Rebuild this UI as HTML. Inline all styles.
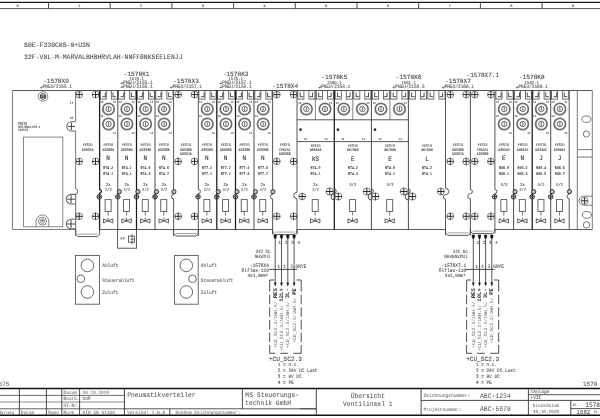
<!DOCTYPE html>
<html><head><meta charset="utf-8"><title>Ventilinsel</title>
<style>
html,body{margin:0;padding:0;background:#fff;}
body{width:600px;height:418px;overflow:hidden;font-family:"Liberation Mono",monospace;}
svg{display:block;font-family:"Liberation Mono",monospace;filter:blur(0.3px);text-rendering:geometricPrecision;}
</style></head><body>
<svg width="600" height="418" viewBox="0 0 600 418">
<rect x="0" y="0" width="600" height="418" fill="#fff"/>
<line x1="0.00" y1="2.30" x2="600.00" y2="2.30" stroke="#1a1a1a" stroke-width="1.15" />
<line x1="0.00" y1="8.60" x2="600.00" y2="8.60" stroke="#3a3a3a" stroke-width="0.85" />
<line x1="48.50" y1="2.30" x2="48.50" y2="8.60" stroke="#2a2a2a" stroke-width="0.85" />
<text transform="translate(17.70 6.76) scale(1 1.0)" font-size="3.83" fill="#444" stroke="#444" stroke-width="0.08" text-anchor="middle" font-weight="normal">0</text>
<line x1="110.20" y1="2.30" x2="110.20" y2="8.60" stroke="#2a2a2a" stroke-width="0.85" />
<text transform="translate(79.40 6.76) scale(1 1.0)" font-size="3.83" fill="#444" stroke="#444" stroke-width="0.08" text-anchor="middle" font-weight="normal">1</text>
<line x1="171.90" y1="2.30" x2="171.90" y2="8.60" stroke="#2a2a2a" stroke-width="0.85" />
<text transform="translate(141.10 6.76) scale(1 1.0)" font-size="3.83" fill="#444" stroke="#444" stroke-width="0.08" text-anchor="middle" font-weight="normal">2</text>
<line x1="233.60" y1="2.30" x2="233.60" y2="8.60" stroke="#2a2a2a" stroke-width="0.85" />
<text transform="translate(202.80 6.76) scale(1 1.0)" font-size="3.83" fill="#444" stroke="#444" stroke-width="0.08" text-anchor="middle" font-weight="normal">3</text>
<line x1="295.30" y1="2.30" x2="295.30" y2="8.60" stroke="#2a2a2a" stroke-width="0.85" />
<text transform="translate(264.50 6.76) scale(1 1.0)" font-size="3.83" fill="#444" stroke="#444" stroke-width="0.08" text-anchor="middle" font-weight="normal">4</text>
<line x1="357.00" y1="2.30" x2="357.00" y2="8.60" stroke="#2a2a2a" stroke-width="0.85" />
<text transform="translate(326.20 6.76) scale(1 1.0)" font-size="3.83" fill="#444" stroke="#444" stroke-width="0.08" text-anchor="middle" font-weight="normal">5</text>
<line x1="418.70" y1="2.30" x2="418.70" y2="8.60" stroke="#2a2a2a" stroke-width="0.85" />
<text transform="translate(387.90 6.76) scale(1 1.0)" font-size="3.83" fill="#444" stroke="#444" stroke-width="0.08" text-anchor="middle" font-weight="normal">6</text>
<line x1="480.40" y1="2.30" x2="480.40" y2="8.60" stroke="#2a2a2a" stroke-width="0.85" />
<text transform="translate(449.60 6.76) scale(1 1.0)" font-size="3.83" fill="#444" stroke="#444" stroke-width="0.08" text-anchor="middle" font-weight="normal">7</text>
<line x1="542.10" y1="2.30" x2="542.10" y2="8.60" stroke="#2a2a2a" stroke-width="0.85" />
<text transform="translate(511.30 6.76) scale(1 1.0)" font-size="3.83" fill="#444" stroke="#444" stroke-width="0.08" text-anchor="middle" font-weight="normal">8</text>
<line x1="603.80" y1="2.30" x2="603.80" y2="8.60" stroke="#2a2a2a" stroke-width="0.85" />
<text transform="translate(573.00 6.76) scale(1 1.0)" font-size="3.83" fill="#444" stroke="#444" stroke-width="0.08" text-anchor="middle" font-weight="normal">9</text>
<text transform="translate(24.10 46.86) scale(1 1.06)" font-size="6.45" fill="#4a4a4a" stroke="#4a4a4a" stroke-width="0.08" text-anchor="start" font-weight="normal">S0E-F330C0S-0+U3N</text>
<text transform="translate(24.10 59.16) scale(1 1.06)" font-size="6.45" fill="#4a4a4a" stroke="#4a4a4a" stroke-width="0.08" text-anchor="start" font-weight="normal">32F-V0L-M-MARVALBHBHRVLAH-NNFF8NKSEELENJJ</text>
<line x1="12.40" y1="90.50" x2="592.30" y2="90.50" stroke="#444" stroke-width="0.9" />
<line x1="12.40" y1="90.50" x2="12.40" y2="229.50" stroke="#666" stroke-width="0.85" />
<line x1="12.40" y1="229.50" x2="75.80" y2="229.50" stroke="#666" stroke-width="0.85" />
<line x1="99.50" y1="229.50" x2="272.70" y2="229.50" stroke="#4a4a4a" stroke-width="0.9" />
<line x1="297.00" y1="229.50" x2="445.30" y2="229.50" stroke="#4a4a4a" stroke-width="0.9" />
<line x1="494.50" y1="229.50" x2="592.30" y2="229.50" stroke="#4a4a4a" stroke-width="0.9" />
<line x1="592.30" y1="90.50" x2="592.30" y2="229.50" stroke="#606060" stroke-width="0.85" />
<text transform="translate(56.00 83.36) scale(1 1.06)" font-size="6.17" fill="#444" stroke="#444" stroke-width="0.08" text-anchor="middle" font-weight="normal">-1578X0</text>
<path d="M42.28,85.70 L42.28,87.70 L40.98,87.70" stroke="#444" stroke-width="0.55" fill="none"/>
<path d="M40.08,87.70 L41.28,86.90 L41.28,88.50 Z" stroke="#444" stroke-width="0.2" fill="#444"/>
<text transform="translate(42.65 88.49) scale(1 1.15)" font-size="4.45" fill="#555" stroke="#555" stroke-width="0.08" text-anchor="start" font-weight="normal">PNEU/2155.1</text>
<circle cx="43.00" cy="96.40" r="4.80" stroke="#666" stroke-width="0.8" fill="none"/>
<circle cx="43.00" cy="96.40" r="2.80" stroke="#444" stroke-width="1.0" fill="none"/>
<line x1="40.60" y1="95.50" x2="45.40" y2="95.50" stroke="#333" stroke-width="0.7" />
<line x1="40.20" y1="96.50" x2="45.80" y2="96.50" stroke="#333" stroke-width="0.7" />
<line x1="40.60" y1="97.50" x2="45.40" y2="97.50" stroke="#333" stroke-width="0.7" />
<line x1="75.60" y1="90.50" x2="75.60" y2="121.60" stroke="#666" stroke-width="0.85" />
<path d="M75.6,121.80000000000001 L71.39999999999999,121.80000000000001 A4.6,4.6 0 0 0 71.39999999999999,131.0 L75.6,131.0" stroke="#666" stroke-width="1.1" fill="none"/>
<line x1="67.80" y1="126.40" x2="75.00" y2="126.40" stroke="#333" stroke-width="0.9" />
<line x1="71.40" y1="122.70" x2="71.40" y2="130.10" stroke="#333" stroke-width="0.9" />
<line x1="75.60" y1="131.00" x2="75.60" y2="188.80" stroke="#666" stroke-width="0.85" />
<text transform="translate(69.80 103.56) scale(1 1.2)" font-size="2.67" fill="#444" stroke="#444" stroke-width="0.1" text-anchor="start" font-weight="normal">17</text>
<text transform="translate(69.80 118.96) scale(1 1.2)" font-size="2.67" fill="#444" stroke="#444" stroke-width="0.1" text-anchor="start" font-weight="normal">18</text>
<text transform="translate(18.00 124.99) scale(1 1.2)" font-size="3.00" fill="#444" stroke="#444" stroke-width="0.1" text-anchor="start" font-weight="normal">FESTO</text>
<text transform="translate(18.00 127.76) scale(1 1.2)" font-size="2.67" fill="#444" stroke="#444" stroke-width="0.1" text-anchor="start" font-weight="normal">CPX-FB33-CPI-4</text>
<text transform="translate(18.00 130.52) scale(1 1.2)" font-size="2.83" fill="#444" stroke="#444" stroke-width="0.1" text-anchor="start" font-weight="normal">5XXX79</text>
<rect x="23.60" y="137.10" width="39.20" height="89.70" stroke="#707070" stroke-width="0.85" fill="none" />
<path d="M36.1,226.8 L36.1,221.3 A6.35,6.35 0 0 1 48.8,221.3 L48.8,226.8" stroke="#777" stroke-width="0.9" fill="none"/>
<circle cx="42.50" cy="221.20" r="4.00" stroke="#777" stroke-width="0.9" fill="none"/>
<circle cx="42.50" cy="221.20" r="2.20" stroke="#777" stroke-width="0.8" fill="none"/>
<circle cx="42.50" cy="220.80" r="0.90" stroke="#555" stroke-width="0.3" fill="#555"/>
<circle cx="79.20" cy="94.60" r="3.40" stroke="#777" stroke-width="0.9" fill="none"/>
<line x1="75.80" y1="94.60" x2="82.60" y2="94.60" stroke="#2a2a2a" stroke-width="1.0" />
<line x1="79.20" y1="91.20" x2="79.20" y2="98.00" stroke="#2a2a2a" stroke-width="1.0" />
<circle cx="95.50" cy="94.60" r="3.40" stroke="#777" stroke-width="0.9" fill="none"/>
<line x1="92.10" y1="94.60" x2="98.90" y2="94.60" stroke="#2a2a2a" stroke-width="1.0" />
<line x1="95.50" y1="91.20" x2="95.50" y2="98.00" stroke="#2a2a2a" stroke-width="1.0" />
<circle cx="79.20" cy="161.40" r="3.40" stroke="#777" stroke-width="0.9" fill="none"/>
<line x1="75.80" y1="161.40" x2="82.60" y2="161.40" stroke="#2a2a2a" stroke-width="1.0" />
<line x1="79.20" y1="158.00" x2="79.20" y2="164.80" stroke="#2a2a2a" stroke-width="1.0" />
<circle cx="95.50" cy="161.40" r="3.40" stroke="#777" stroke-width="0.9" fill="none"/>
<line x1="92.10" y1="161.40" x2="98.90" y2="161.40" stroke="#2a2a2a" stroke-width="1.0" />
<line x1="95.50" y1="158.00" x2="95.50" y2="164.80" stroke="#2a2a2a" stroke-width="1.0" />
<circle cx="79.20" cy="216.30" r="3.40" stroke="#777" stroke-width="0.9" fill="none"/>
<line x1="75.80" y1="216.30" x2="82.60" y2="216.30" stroke="#2a2a2a" stroke-width="1.0" />
<line x1="79.20" y1="212.90" x2="79.20" y2="219.70" stroke="#2a2a2a" stroke-width="1.0" />
<circle cx="95.50" cy="216.30" r="3.40" stroke="#777" stroke-width="0.9" fill="none"/>
<line x1="92.10" y1="216.30" x2="98.90" y2="216.30" stroke="#2a2a2a" stroke-width="1.0" />
<line x1="95.50" y1="212.90" x2="95.50" y2="219.70" stroke="#2a2a2a" stroke-width="1.0" />
<path d="M75.7,229.5 L75.7,234.1 L77.9,236.6 L97.39999999999999,236.6 L99.6,234.1 L99.6,229.5" stroke="#444" stroke-width="0.9" fill="none"/>
<line x1="77.70" y1="234.10" x2="97.60" y2="234.10" stroke="#777" stroke-width="0.7" />
<text transform="translate(87.65 146.49) scale(1 1.2)" font-size="3.25" fill="#444" stroke="#444" stroke-width="0.1" text-anchor="middle" font-weight="normal">FESTO</text>
<text transform="translate(87.65 150.64) scale(1 1.2)" font-size="3.25" fill="#444" stroke="#444" stroke-width="0.1" text-anchor="middle" font-weight="normal">533375</text>
<path d="M75.7,188.8 A1.9,2.6 0 0 1 75.7,194.0 L75.7,236" stroke="#555" stroke-width="0.9" fill="none"/>
<path d="M75.7,194.39999999999998 L71.10000000000001,194.39999999999998 A4.8,4.8 0 0 0 71.10000000000001,204.0 L75.7,204.0" stroke="#666" stroke-width="1.1" fill="none"/>
<line x1="67.30" y1="199.20" x2="75.10" y2="199.20" stroke="#333" stroke-width="0.9" />
<line x1="71.10" y1="195.30" x2="71.10" y2="203.10" stroke="#333" stroke-width="0.9" />
<path d="M75.7,219.2 L71.10000000000001,219.2 A4.8,4.8 0 0 0 71.10000000000001,228.8 L75.7,228.8" stroke="#666" stroke-width="1.1" fill="none"/>
<line x1="67.30" y1="224.00" x2="75.10" y2="224.00" stroke="#333" stroke-width="0.9" />
<line x1="71.10" y1="220.10" x2="71.10" y2="227.90" stroke="#333" stroke-width="0.9" />
<rect x="100.20" y="90.50" width="6.10" height="8.60" stroke="#555" stroke-width="0.85" fill="none" />
<line x1="105.30" y1="92.40" x2="105.30" y2="97.10" stroke="#333" stroke-width="0.85" />
<line x1="102.20" y1="96.70" x2="105.30" y2="96.70" stroke="#333" stroke-width="0.85" />
<rect x="111.30" y="90.50" width="6.10" height="8.60" stroke="#555" stroke-width="0.85" fill="none" />
<line x1="113.00" y1="92.40" x2="113.00" y2="97.10" stroke="#333" stroke-width="0.85" />
<line x1="113.00" y1="96.70" x2="116.10" y2="96.70" stroke="#333" stroke-width="0.85" />
<circle cx="108.55" cy="109.00" r="5.70" stroke="#808080" stroke-width="1.8" fill="none"/>
<circle cx="108.55" cy="109.00" r="5.70" stroke="#5a5a5a" stroke-width="0.5" fill="none"/>
<circle cx="108.55" cy="109.00" r="2.70" stroke="#444" stroke-width="0.8" fill="none"/>
<line x1="108.55" y1="107.10" x2="108.55" y2="110.90" stroke="#444" stroke-width="0.8" />
<circle cx="108.55" cy="124.00" r="5.70" stroke="#808080" stroke-width="1.8" fill="none"/>
<circle cx="108.55" cy="124.00" r="5.70" stroke="#5a5a5a" stroke-width="0.5" fill="none"/>
<circle cx="108.55" cy="124.00" r="2.70" stroke="#444" stroke-width="0.8" fill="none"/>
<line x1="108.55" y1="122.10" x2="108.55" y2="125.90" stroke="#444" stroke-width="0.8" />
<text transform="translate(100.30 102.82) scale(1 1.2)" font-size="2.58" fill="#444" stroke="#444" stroke-width="0.1" text-anchor="start" font-weight="normal">12</text>
<text transform="translate(113.00 102.82) scale(1 1.2)" font-size="2.58" fill="#444" stroke="#444" stroke-width="0.1" text-anchor="start" font-weight="normal">14</text>
<text transform="translate(100.30 117.42) scale(1 1.2)" font-size="2.58" fill="#444" stroke="#444" stroke-width="0.1" text-anchor="start" font-weight="normal">12</text>
<text transform="translate(113.00 133.62) scale(1 1.2)" font-size="2.58" fill="#444" stroke="#444" stroke-width="0.1" text-anchor="start" font-weight="normal">14</text>
<text transform="translate(108.35 146.49) scale(1 1.2)" font-size="3.25" fill="#444" stroke="#444" stroke-width="0.1" text-anchor="middle" font-weight="normal">FESTO</text>
<text transform="translate(108.35 150.69) scale(1 1.2)" font-size="3.25" fill="#444" stroke="#444" stroke-width="0.1" text-anchor="middle" font-weight="normal">533396</text>
<text transform="translate(108.15 160.28) scale(1 1.15)" font-size="6.00" fill="#2a2a2a" stroke="#2a2a2a" stroke-width="0.08" text-anchor="middle" font-weight="normal">N</text>
<text transform="translate(108.35 169.02) scale(1 1.2)" font-size="3.33" fill="#3a3a3a" stroke="#3a3a3a" stroke-width="0.1" text-anchor="middle" font-weight="normal">RT4.2</text>
<text transform="translate(108.35 174.82) scale(1 1.2)" font-size="3.33" fill="#3a3a3a" stroke="#3a3a3a" stroke-width="0.1" text-anchor="middle" font-weight="normal">RT4.1</text>
<text transform="translate(108.35 186.25) scale(1 1.15)" font-size="3.83" fill="#333" stroke="#333" stroke-width="0.08" text-anchor="middle" font-weight="normal">2x</text>
<text transform="translate(108.35 191.32) scale(1 1.15)" font-size="3.75" fill="#666" stroke="#666" stroke-width="0.08" text-anchor="middle" font-weight="normal">3/2</text>
<rect x="105.15" y="199.60" width="6.00" height="11.80" stroke="#555" stroke-width="0.9" fill="none" />
<line x1="108.15" y1="211.40" x2="108.15" y2="215.60" stroke="#555" stroke-width="0.8" />
<path d="M103.45,218.9 L103.45,222.9 L112.85000000000001,218.9 L112.85000000000001,222.9 Z" stroke="#3a3a3a" stroke-width="0.8" fill="none"/>
<line x1="108.15" y1="217.60" x2="108.15" y2="220.90" stroke="#444" stroke-width="0.8" />
<rect x="118.60" y="90.50" width="6.10" height="8.60" stroke="#555" stroke-width="0.85" fill="none" />
<line x1="123.70" y1="92.40" x2="123.70" y2="97.10" stroke="#333" stroke-width="0.85" />
<line x1="120.60" y1="96.70" x2="123.70" y2="96.70" stroke="#333" stroke-width="0.85" />
<rect x="129.70" y="90.50" width="6.10" height="8.60" stroke="#555" stroke-width="0.85" fill="none" />
<line x1="131.40" y1="92.40" x2="131.40" y2="97.10" stroke="#333" stroke-width="0.85" />
<line x1="131.40" y1="96.70" x2="134.50" y2="96.70" stroke="#333" stroke-width="0.85" />
<circle cx="126.95" cy="109.00" r="5.70" stroke="#808080" stroke-width="1.8" fill="none"/>
<circle cx="126.95" cy="109.00" r="5.70" stroke="#5a5a5a" stroke-width="0.5" fill="none"/>
<circle cx="126.95" cy="109.00" r="2.70" stroke="#444" stroke-width="0.8" fill="none"/>
<line x1="126.95" y1="107.10" x2="126.95" y2="110.90" stroke="#444" stroke-width="0.8" />
<circle cx="126.95" cy="124.00" r="5.70" stroke="#808080" stroke-width="1.8" fill="none"/>
<circle cx="126.95" cy="124.00" r="5.70" stroke="#5a5a5a" stroke-width="0.5" fill="none"/>
<circle cx="126.95" cy="124.00" r="2.70" stroke="#444" stroke-width="0.8" fill="none"/>
<line x1="126.95" y1="122.10" x2="126.95" y2="125.90" stroke="#444" stroke-width="0.8" />
<text transform="translate(118.70 102.82) scale(1 1.2)" font-size="2.58" fill="#444" stroke="#444" stroke-width="0.1" text-anchor="start" font-weight="normal">12</text>
<text transform="translate(131.40 102.82) scale(1 1.2)" font-size="2.58" fill="#444" stroke="#444" stroke-width="0.1" text-anchor="start" font-weight="normal">14</text>
<text transform="translate(118.70 117.42) scale(1 1.2)" font-size="2.58" fill="#444" stroke="#444" stroke-width="0.1" text-anchor="start" font-weight="normal">12</text>
<text transform="translate(131.40 133.62) scale(1 1.2)" font-size="2.58" fill="#444" stroke="#444" stroke-width="0.1" text-anchor="start" font-weight="normal">14</text>
<text transform="translate(126.75 146.49) scale(1 1.2)" font-size="3.25" fill="#444" stroke="#444" stroke-width="0.1" text-anchor="middle" font-weight="normal">FESTO</text>
<text transform="translate(126.75 150.69) scale(1 1.2)" font-size="3.25" fill="#444" stroke="#444" stroke-width="0.1" text-anchor="middle" font-weight="normal">533396</text>
<text transform="translate(126.55 160.28) scale(1 1.15)" font-size="6.00" fill="#2a2a2a" stroke="#2a2a2a" stroke-width="0.08" text-anchor="middle" font-weight="normal">N</text>
<text transform="translate(126.75 169.02) scale(1 1.2)" font-size="3.33" fill="#3a3a3a" stroke="#3a3a3a" stroke-width="0.1" text-anchor="middle" font-weight="normal">RT4.1</text>
<text transform="translate(126.75 174.82) scale(1 1.2)" font-size="3.33" fill="#3a3a3a" stroke="#3a3a3a" stroke-width="0.1" text-anchor="middle" font-weight="normal">RT4.1</text>
<text transform="translate(126.75 186.25) scale(1 1.15)" font-size="3.83" fill="#333" stroke="#333" stroke-width="0.08" text-anchor="middle" font-weight="normal">2x</text>
<text transform="translate(126.75 191.32) scale(1 1.15)" font-size="3.75" fill="#666" stroke="#666" stroke-width="0.08" text-anchor="middle" font-weight="normal">3/2</text>
<rect x="123.55" y="199.60" width="6.00" height="11.80" stroke="#555" stroke-width="0.9" fill="none" />
<line x1="126.55" y1="211.40" x2="126.55" y2="215.60" stroke="#555" stroke-width="0.8" />
<path d="M121.85,218.9 L121.85,222.9 L131.25,218.9 L131.25,222.9 Z" stroke="#3a3a3a" stroke-width="0.8" fill="none"/>
<line x1="126.55" y1="217.60" x2="126.55" y2="220.90" stroke="#444" stroke-width="0.8" />
<rect x="137.30" y="90.50" width="6.10" height="8.60" stroke="#555" stroke-width="0.85" fill="none" />
<line x1="142.40" y1="92.40" x2="142.40" y2="97.10" stroke="#333" stroke-width="0.85" />
<line x1="139.30" y1="96.70" x2="142.40" y2="96.70" stroke="#333" stroke-width="0.85" />
<rect x="148.40" y="90.50" width="6.10" height="8.60" stroke="#555" stroke-width="0.85" fill="none" />
<line x1="150.10" y1="92.40" x2="150.10" y2="97.10" stroke="#333" stroke-width="0.85" />
<line x1="150.10" y1="96.70" x2="153.20" y2="96.70" stroke="#333" stroke-width="0.85" />
<circle cx="145.65" cy="109.00" r="5.70" stroke="#808080" stroke-width="1.8" fill="none"/>
<circle cx="145.65" cy="109.00" r="5.70" stroke="#5a5a5a" stroke-width="0.5" fill="none"/>
<circle cx="145.65" cy="109.00" r="2.70" stroke="#444" stroke-width="0.8" fill="none"/>
<line x1="145.65" y1="107.10" x2="145.65" y2="110.90" stroke="#444" stroke-width="0.8" />
<circle cx="145.65" cy="124.00" r="5.70" stroke="#808080" stroke-width="1.8" fill="none"/>
<circle cx="145.65" cy="124.00" r="5.70" stroke="#5a5a5a" stroke-width="0.5" fill="none"/>
<circle cx="145.65" cy="124.00" r="2.70" stroke="#444" stroke-width="0.8" fill="none"/>
<line x1="145.65" y1="122.10" x2="145.65" y2="125.90" stroke="#444" stroke-width="0.8" />
<text transform="translate(137.40 102.82) scale(1 1.2)" font-size="2.58" fill="#444" stroke="#444" stroke-width="0.1" text-anchor="start" font-weight="normal">12</text>
<text transform="translate(150.10 102.82) scale(1 1.2)" font-size="2.58" fill="#444" stroke="#444" stroke-width="0.1" text-anchor="start" font-weight="normal">14</text>
<text transform="translate(137.40 117.42) scale(1 1.2)" font-size="2.58" fill="#444" stroke="#444" stroke-width="0.1" text-anchor="start" font-weight="normal">12</text>
<text transform="translate(150.10 133.62) scale(1 1.2)" font-size="2.58" fill="#444" stroke="#444" stroke-width="0.1" text-anchor="start" font-weight="normal">14</text>
<text transform="translate(145.45 146.49) scale(1 1.2)" font-size="3.25" fill="#444" stroke="#444" stroke-width="0.1" text-anchor="middle" font-weight="normal">FESTO</text>
<text transform="translate(145.45 150.69) scale(1 1.2)" font-size="3.25" fill="#444" stroke="#444" stroke-width="0.1" text-anchor="middle" font-weight="normal">533396</text>
<text transform="translate(145.25 160.28) scale(1 1.15)" font-size="6.00" fill="#2a2a2a" stroke="#2a2a2a" stroke-width="0.08" text-anchor="middle" font-weight="normal">N</text>
<text transform="translate(145.45 169.02) scale(1 1.2)" font-size="3.33" fill="#3a3a3a" stroke="#3a3a3a" stroke-width="0.1" text-anchor="middle" font-weight="normal">RT4.6</text>
<text transform="translate(145.45 174.82) scale(1 1.2)" font-size="3.33" fill="#3a3a3a" stroke="#3a3a3a" stroke-width="0.1" text-anchor="middle" font-weight="normal">RT4.5</text>
<text transform="translate(145.45 186.25) scale(1 1.15)" font-size="3.83" fill="#333" stroke="#333" stroke-width="0.08" text-anchor="middle" font-weight="normal">2x</text>
<text transform="translate(145.45 191.32) scale(1 1.15)" font-size="3.75" fill="#666" stroke="#666" stroke-width="0.08" text-anchor="middle" font-weight="normal">3/2</text>
<rect x="142.25" y="199.60" width="6.00" height="11.80" stroke="#555" stroke-width="0.9" fill="none" />
<line x1="145.25" y1="211.40" x2="145.25" y2="215.60" stroke="#555" stroke-width="0.8" />
<path d="M140.55,218.9 L140.55,222.9 L149.95,218.9 L149.95,222.9 Z" stroke="#3a3a3a" stroke-width="0.8" fill="none"/>
<line x1="145.25" y1="217.60" x2="145.25" y2="220.90" stroke="#444" stroke-width="0.8" />
<rect x="155.80" y="90.50" width="6.10" height="8.60" stroke="#555" stroke-width="0.85" fill="none" />
<line x1="160.90" y1="92.40" x2="160.90" y2="97.10" stroke="#333" stroke-width="0.85" />
<line x1="157.80" y1="96.70" x2="160.90" y2="96.70" stroke="#333" stroke-width="0.85" />
<rect x="166.90" y="90.50" width="6.10" height="8.60" stroke="#555" stroke-width="0.85" fill="none" />
<line x1="168.60" y1="92.40" x2="168.60" y2="97.10" stroke="#333" stroke-width="0.85" />
<line x1="168.60" y1="96.70" x2="171.70" y2="96.70" stroke="#333" stroke-width="0.85" />
<circle cx="164.15" cy="109.00" r="5.70" stroke="#808080" stroke-width="1.8" fill="none"/>
<circle cx="164.15" cy="109.00" r="5.70" stroke="#5a5a5a" stroke-width="0.5" fill="none"/>
<circle cx="164.15" cy="109.00" r="2.70" stroke="#444" stroke-width="0.8" fill="none"/>
<line x1="164.15" y1="107.10" x2="164.15" y2="110.90" stroke="#444" stroke-width="0.8" />
<circle cx="164.15" cy="124.00" r="5.70" stroke="#808080" stroke-width="1.8" fill="none"/>
<circle cx="164.15" cy="124.00" r="5.70" stroke="#5a5a5a" stroke-width="0.5" fill="none"/>
<circle cx="164.15" cy="124.00" r="2.70" stroke="#444" stroke-width="0.8" fill="none"/>
<line x1="164.15" y1="122.10" x2="164.15" y2="125.90" stroke="#444" stroke-width="0.8" />
<text transform="translate(155.90 102.82) scale(1 1.2)" font-size="2.58" fill="#444" stroke="#444" stroke-width="0.1" text-anchor="start" font-weight="normal">12</text>
<text transform="translate(168.60 102.82) scale(1 1.2)" font-size="2.58" fill="#444" stroke="#444" stroke-width="0.1" text-anchor="start" font-weight="normal">14</text>
<text transform="translate(155.90 117.42) scale(1 1.2)" font-size="2.58" fill="#444" stroke="#444" stroke-width="0.1" text-anchor="start" font-weight="normal">12</text>
<text transform="translate(168.60 133.62) scale(1 1.2)" font-size="2.58" fill="#444" stroke="#444" stroke-width="0.1" text-anchor="start" font-weight="normal">14</text>
<text transform="translate(163.95 146.49) scale(1 1.2)" font-size="3.25" fill="#444" stroke="#444" stroke-width="0.1" text-anchor="middle" font-weight="normal">FESTO</text>
<text transform="translate(163.95 150.69) scale(1 1.2)" font-size="3.25" fill="#444" stroke="#444" stroke-width="0.1" text-anchor="middle" font-weight="normal">533396</text>
<text transform="translate(163.75 160.28) scale(1 1.15)" font-size="6.00" fill="#2a2a2a" stroke="#2a2a2a" stroke-width="0.08" text-anchor="middle" font-weight="normal">N</text>
<text transform="translate(163.95 169.02) scale(1 1.2)" font-size="3.33" fill="#3a3a3a" stroke="#3a3a3a" stroke-width="0.1" text-anchor="middle" font-weight="normal">RT4.6</text>
<text transform="translate(163.95 174.82) scale(1 1.2)" font-size="3.33" fill="#3a3a3a" stroke="#3a3a3a" stroke-width="0.1" text-anchor="middle" font-weight="normal">RT4.7</text>
<text transform="translate(163.95 186.25) scale(1 1.15)" font-size="3.83" fill="#333" stroke="#333" stroke-width="0.08" text-anchor="middle" font-weight="normal">2x</text>
<text transform="translate(163.95 191.32) scale(1 1.15)" font-size="3.75" fill="#666" stroke="#666" stroke-width="0.08" text-anchor="middle" font-weight="normal">3/2</text>
<rect x="160.75" y="199.60" width="6.00" height="11.80" stroke="#555" stroke-width="0.9" fill="none" />
<line x1="163.75" y1="211.40" x2="163.75" y2="215.60" stroke="#555" stroke-width="0.8" />
<path d="M159.05,218.9 L159.05,222.9 L168.45,218.9 L168.45,222.9 Z" stroke="#3a3a3a" stroke-width="0.8" fill="none"/>
<line x1="163.75" y1="217.60" x2="163.75" y2="220.90" stroke="#444" stroke-width="0.8" />
<path d="M99.6,90.5 L99.6,189.6 A1.8,1.8 0 0 1 99.6,193.20000000000002 L99.6,229.5" stroke="#1a1a1a" stroke-width="1.25" fill="none"/>
<circle cx="99.30" cy="196.80" r="2.30" stroke="#3a3a3a" stroke-width="1.0" fill="none"/>
<line x1="97.00" y1="196.80" x2="101.60" y2="196.80" stroke="#333" stroke-width="0.9" />
<line x1="99.30" y1="194.50" x2="99.30" y2="199.10" stroke="#333" stroke-width="0.9" />
<line x1="117.80" y1="90.50" x2="117.80" y2="229.50" stroke="#383838" stroke-width="0.9" />
<circle cx="119.30" cy="191.70" r="2.10" stroke="#333" stroke-width="1.0" fill="#bdbdbd"/>
<circle cx="117.80" cy="196.80" r="2.30" stroke="#3a3a3a" stroke-width="1.0" fill="none"/>
<line x1="115.50" y1="196.80" x2="120.10" y2="196.80" stroke="#333" stroke-width="0.9" />
<line x1="117.80" y1="194.50" x2="117.80" y2="199.10" stroke="#333" stroke-width="0.9" />
<line x1="136.50" y1="90.50" x2="136.50" y2="229.50" stroke="#1a1a1a" stroke-width="1.25" />
<circle cx="138.00" cy="191.70" r="2.10" stroke="#333" stroke-width="1.0" fill="#bdbdbd"/>
<circle cx="136.50" cy="196.80" r="2.30" stroke="#3a3a3a" stroke-width="1.0" fill="none"/>
<line x1="134.20" y1="196.80" x2="138.80" y2="196.80" stroke="#333" stroke-width="0.9" />
<line x1="136.50" y1="194.50" x2="136.50" y2="199.10" stroke="#333" stroke-width="0.9" />
<line x1="155.00" y1="90.50" x2="155.00" y2="229.50" stroke="#383838" stroke-width="0.9" />
<circle cx="156.50" cy="191.70" r="2.10" stroke="#333" stroke-width="1.0" fill="#bdbdbd"/>
<circle cx="155.00" cy="196.80" r="2.30" stroke="#3a3a3a" stroke-width="1.0" fill="none"/>
<line x1="152.70" y1="196.80" x2="157.30" y2="196.80" stroke="#333" stroke-width="0.9" />
<line x1="155.00" y1="194.50" x2="155.00" y2="199.10" stroke="#333" stroke-width="0.9" />
<text transform="translate(136.60 75.76) scale(1 1.06)" font-size="6.17" fill="#444" stroke="#444" stroke-width="0.08" text-anchor="middle" font-weight="normal">-1578K1</text>
<text transform="translate(136.60 80.02) scale(1 1.15)" font-size="4.00" fill="#555" stroke="#555" stroke-width="0.08" text-anchor="middle" font-weight="normal">1578.1</text>
<path d="M122.88,81.40 L122.88,83.40 L121.58,83.40" stroke="#444" stroke-width="0.55" fill="none"/>
<path d="M120.68,83.40 L121.88,82.60 L121.88,84.20 Z" stroke="#444" stroke-width="0.2" fill="#444"/>
<text transform="translate(123.25 84.19) scale(1 1.15)" font-size="4.45" fill="#555" stroke="#555" stroke-width="0.08" text-anchor="start" font-weight="normal">PNEU/2155.1</text>
<path d="M122.88,85.20 L122.88,87.20 L121.58,87.20" stroke="#444" stroke-width="0.55" fill="none"/>
<path d="M120.68,87.20 L121.88,86.40 L121.88,88.00 Z" stroke="#444" stroke-width="0.2" fill="#444"/>
<text transform="translate(123.25 87.99) scale(1 1.15)" font-size="4.45" fill="#555" stroke="#555" stroke-width="0.08" text-anchor="start" font-weight="normal">PNEU/2156.1</text>
<rect x="117.60" y="229.50" width="19.00" height="18.70" stroke="#444" stroke-width="0.9" fill="none" />
<text transform="translate(120.60 240.39) scale(1 1.2)" font-size="3.50" fill="#555" stroke="#555" stroke-width="0.1" text-anchor="start" font-weight="normal">PP</text>
<rect x="128.40" y="236.10" width="6.00" height="6.10" stroke="#444" stroke-width="0.8" fill="none" />
<line x1="132.00" y1="234.00" x2="132.00" y2="244.30" stroke="#444" stroke-width="0.8" />
<line x1="130.20" y1="239.20" x2="134.40" y2="239.20" stroke="#555" stroke-width="0.7" />
<path d="M173.6,90.5 L173.6,194.4 A2.2,2.2 0 0 0 173.6,198.8 L173.6,236" stroke="#444" stroke-width="0.9" fill="none"/>
<circle cx="173.90" cy="191.70" r="2.10" stroke="#333" stroke-width="1.0" fill="#bdbdbd"/>
<circle cx="178.20" cy="94.60" r="3.40" stroke="#777" stroke-width="0.9" fill="none"/>
<line x1="174.80" y1="94.60" x2="181.60" y2="94.60" stroke="#2a2a2a" stroke-width="1.0" />
<line x1="178.20" y1="91.20" x2="178.20" y2="98.00" stroke="#2a2a2a" stroke-width="1.0" />
<circle cx="194.50" cy="94.60" r="3.40" stroke="#777" stroke-width="0.9" fill="none"/>
<line x1="191.10" y1="94.60" x2="197.90" y2="94.60" stroke="#2a2a2a" stroke-width="1.0" />
<line x1="194.50" y1="91.20" x2="194.50" y2="98.00" stroke="#2a2a2a" stroke-width="1.0" />
<circle cx="178.20" cy="161.40" r="3.40" stroke="#777" stroke-width="0.9" fill="none"/>
<line x1="174.80" y1="161.40" x2="181.60" y2="161.40" stroke="#2a2a2a" stroke-width="1.0" />
<line x1="178.20" y1="158.00" x2="178.20" y2="164.80" stroke="#2a2a2a" stroke-width="1.0" />
<circle cx="194.50" cy="161.40" r="3.40" stroke="#777" stroke-width="0.9" fill="none"/>
<line x1="191.10" y1="161.40" x2="197.90" y2="161.40" stroke="#2a2a2a" stroke-width="1.0" />
<line x1="194.50" y1="158.00" x2="194.50" y2="164.80" stroke="#2a2a2a" stroke-width="1.0" />
<circle cx="178.20" cy="216.30" r="3.40" stroke="#777" stroke-width="0.9" fill="none"/>
<line x1="174.80" y1="216.30" x2="181.60" y2="216.30" stroke="#2a2a2a" stroke-width="1.0" />
<line x1="178.20" y1="212.90" x2="178.20" y2="219.70" stroke="#2a2a2a" stroke-width="1.0" />
<circle cx="194.50" cy="216.30" r="3.40" stroke="#777" stroke-width="0.9" fill="none"/>
<line x1="191.10" y1="216.30" x2="197.90" y2="216.30" stroke="#2a2a2a" stroke-width="1.0" />
<line x1="194.50" y1="212.90" x2="194.50" y2="219.70" stroke="#2a2a2a" stroke-width="1.0" />
<path d="M173.6,229.5 L173.6,233.5 L175.79999999999998,236.0 L196.10000000000002,236.0 L198.3,233.5 L198.3,229.5" stroke="#444" stroke-width="0.9" fill="none"/>
<line x1="175.60" y1="233.50" x2="196.30" y2="233.50" stroke="#777" stroke-width="0.7" />
<text transform="translate(185.95 146.49) scale(1 1.2)" font-size="3.25" fill="#444" stroke="#444" stroke-width="0.1" text-anchor="middle" font-weight="normal">FESTO</text>
<text transform="translate(185.95 150.64) scale(1 1.2)" font-size="3.25" fill="#444" stroke="#444" stroke-width="0.1" text-anchor="middle" font-weight="normal">533399</text>
<text transform="translate(185.95 154.79) scale(1 1.2)" font-size="3.25" fill="#444" stroke="#444" stroke-width="0.1" text-anchor="middle" font-weight="normal">533375</text>
<text transform="translate(186.00 83.06) scale(1 1.06)" font-size="6.17" fill="#444" stroke="#444" stroke-width="0.08" text-anchor="middle" font-weight="normal">-1578X3</text>
<path d="M172.28,85.60 L172.28,87.60 L170.98,87.60" stroke="#444" stroke-width="0.55" fill="none"/>
<path d="M170.08,87.60 L171.28,86.80 L171.28,88.40 Z" stroke="#444" stroke-width="0.2" fill="#444"/>
<text transform="translate(172.65 88.39) scale(1 1.15)" font-size="4.45" fill="#555" stroke="#555" stroke-width="0.08" text-anchor="start" font-weight="normal">PNEU/2157.1</text>
<rect x="198.90" y="90.50" width="6.10" height="8.60" stroke="#555" stroke-width="0.85" fill="none" />
<line x1="204.00" y1="92.40" x2="204.00" y2="97.10" stroke="#333" stroke-width="0.85" />
<line x1="200.90" y1="96.70" x2="204.00" y2="96.70" stroke="#333" stroke-width="0.85" />
<rect x="210.00" y="90.50" width="6.10" height="8.60" stroke="#555" stroke-width="0.85" fill="none" />
<line x1="211.70" y1="92.40" x2="211.70" y2="97.10" stroke="#333" stroke-width="0.85" />
<line x1="211.70" y1="96.70" x2="214.80" y2="96.70" stroke="#333" stroke-width="0.85" />
<circle cx="207.25" cy="109.00" r="5.70" stroke="#808080" stroke-width="1.8" fill="none"/>
<circle cx="207.25" cy="109.00" r="5.70" stroke="#5a5a5a" stroke-width="0.5" fill="none"/>
<circle cx="207.25" cy="109.00" r="2.70" stroke="#444" stroke-width="0.8" fill="none"/>
<line x1="207.25" y1="107.10" x2="207.25" y2="110.90" stroke="#444" stroke-width="0.8" />
<circle cx="207.25" cy="124.00" r="5.70" stroke="#808080" stroke-width="1.8" fill="none"/>
<circle cx="207.25" cy="124.00" r="5.70" stroke="#5a5a5a" stroke-width="0.5" fill="none"/>
<circle cx="207.25" cy="124.00" r="2.70" stroke="#444" stroke-width="0.8" fill="none"/>
<line x1="207.25" y1="122.10" x2="207.25" y2="125.90" stroke="#444" stroke-width="0.8" />
<text transform="translate(199.00 102.82) scale(1 1.2)" font-size="2.58" fill="#444" stroke="#444" stroke-width="0.1" text-anchor="start" font-weight="normal">12</text>
<text transform="translate(211.70 102.82) scale(1 1.2)" font-size="2.58" fill="#444" stroke="#444" stroke-width="0.1" text-anchor="start" font-weight="normal">14</text>
<text transform="translate(199.00 117.42) scale(1 1.2)" font-size="2.58" fill="#444" stroke="#444" stroke-width="0.1" text-anchor="start" font-weight="normal">12</text>
<text transform="translate(211.70 133.62) scale(1 1.2)" font-size="2.58" fill="#444" stroke="#444" stroke-width="0.1" text-anchor="start" font-weight="normal">14</text>
<text transform="translate(207.05 146.49) scale(1 1.2)" font-size="3.25" fill="#444" stroke="#444" stroke-width="0.1" text-anchor="middle" font-weight="normal">FESTO</text>
<text transform="translate(207.05 150.69) scale(1 1.2)" font-size="3.25" fill="#444" stroke="#444" stroke-width="0.1" text-anchor="middle" font-weight="normal">533396</text>
<text transform="translate(206.85 160.28) scale(1 1.15)" font-size="6.00" fill="#2a2a2a" stroke="#2a2a2a" stroke-width="0.08" text-anchor="middle" font-weight="normal">N</text>
<text transform="translate(207.05 169.02) scale(1 1.2)" font-size="3.33" fill="#3a3a3a" stroke="#3a3a3a" stroke-width="0.1" text-anchor="middle" font-weight="normal">RT7.2</text>
<text transform="translate(207.05 174.82) scale(1 1.2)" font-size="3.33" fill="#3a3a3a" stroke="#3a3a3a" stroke-width="0.1" text-anchor="middle" font-weight="normal">RT7.1</text>
<text transform="translate(207.05 186.25) scale(1 1.15)" font-size="3.83" fill="#333" stroke="#333" stroke-width="0.08" text-anchor="middle" font-weight="normal">2x</text>
<text transform="translate(207.05 191.32) scale(1 1.15)" font-size="3.75" fill="#666" stroke="#666" stroke-width="0.08" text-anchor="middle" font-weight="normal">3/2</text>
<rect x="203.85" y="199.60" width="6.00" height="11.80" stroke="#555" stroke-width="0.9" fill="none" />
<line x1="206.85" y1="211.40" x2="206.85" y2="215.60" stroke="#555" stroke-width="0.8" />
<path d="M202.15,218.9 L202.15,222.9 L211.54999999999998,218.9 L211.54999999999998,222.9 Z" stroke="#3a3a3a" stroke-width="0.8" fill="none"/>
<line x1="206.85" y1="217.60" x2="206.85" y2="220.90" stroke="#444" stroke-width="0.8" />
<rect x="217.60" y="90.50" width="6.10" height="8.60" stroke="#555" stroke-width="0.85" fill="none" />
<line x1="222.70" y1="92.40" x2="222.70" y2="97.10" stroke="#333" stroke-width="0.85" />
<line x1="219.60" y1="96.70" x2="222.70" y2="96.70" stroke="#333" stroke-width="0.85" />
<rect x="228.70" y="90.50" width="6.10" height="8.60" stroke="#555" stroke-width="0.85" fill="none" />
<line x1="230.40" y1="92.40" x2="230.40" y2="97.10" stroke="#333" stroke-width="0.85" />
<line x1="230.40" y1="96.70" x2="233.50" y2="96.70" stroke="#333" stroke-width="0.85" />
<circle cx="225.95" cy="109.00" r="5.70" stroke="#808080" stroke-width="1.8" fill="none"/>
<circle cx="225.95" cy="109.00" r="5.70" stroke="#5a5a5a" stroke-width="0.5" fill="none"/>
<circle cx="225.95" cy="109.00" r="2.70" stroke="#444" stroke-width="0.8" fill="none"/>
<line x1="225.95" y1="107.10" x2="225.95" y2="110.90" stroke="#444" stroke-width="0.8" />
<circle cx="225.95" cy="124.00" r="5.70" stroke="#808080" stroke-width="1.8" fill="none"/>
<circle cx="225.95" cy="124.00" r="5.70" stroke="#5a5a5a" stroke-width="0.5" fill="none"/>
<circle cx="225.95" cy="124.00" r="2.70" stroke="#444" stroke-width="0.8" fill="none"/>
<line x1="225.95" y1="122.10" x2="225.95" y2="125.90" stroke="#444" stroke-width="0.8" />
<text transform="translate(217.70 102.82) scale(1 1.2)" font-size="2.58" fill="#444" stroke="#444" stroke-width="0.1" text-anchor="start" font-weight="normal">12</text>
<text transform="translate(230.40 102.82) scale(1 1.2)" font-size="2.58" fill="#444" stroke="#444" stroke-width="0.1" text-anchor="start" font-weight="normal">14</text>
<text transform="translate(217.70 117.42) scale(1 1.2)" font-size="2.58" fill="#444" stroke="#444" stroke-width="0.1" text-anchor="start" font-weight="normal">12</text>
<text transform="translate(230.40 133.62) scale(1 1.2)" font-size="2.58" fill="#444" stroke="#444" stroke-width="0.1" text-anchor="start" font-weight="normal">14</text>
<text transform="translate(225.75 146.49) scale(1 1.2)" font-size="3.25" fill="#444" stroke="#444" stroke-width="0.1" text-anchor="middle" font-weight="normal">FESTO</text>
<text transform="translate(225.75 150.69) scale(1 1.2)" font-size="3.25" fill="#444" stroke="#444" stroke-width="0.1" text-anchor="middle" font-weight="normal">533396</text>
<text transform="translate(225.55 160.28) scale(1 1.15)" font-size="6.00" fill="#2a2a2a" stroke="#2a2a2a" stroke-width="0.08" text-anchor="middle" font-weight="normal">N</text>
<text transform="translate(225.75 169.02) scale(1 1.2)" font-size="3.33" fill="#3a3a3a" stroke="#3a3a3a" stroke-width="0.1" text-anchor="middle" font-weight="normal">RT7.2</text>
<text transform="translate(225.75 174.82) scale(1 1.2)" font-size="3.33" fill="#3a3a3a" stroke="#3a3a3a" stroke-width="0.1" text-anchor="middle" font-weight="normal">RT7.1</text>
<text transform="translate(225.75 186.25) scale(1 1.15)" font-size="3.83" fill="#333" stroke="#333" stroke-width="0.08" text-anchor="middle" font-weight="normal">2x</text>
<text transform="translate(225.75 191.32) scale(1 1.15)" font-size="3.75" fill="#666" stroke="#666" stroke-width="0.08" text-anchor="middle" font-weight="normal">3/2</text>
<rect x="222.55" y="199.60" width="6.00" height="11.80" stroke="#555" stroke-width="0.9" fill="none" />
<line x1="225.55" y1="211.40" x2="225.55" y2="215.60" stroke="#555" stroke-width="0.8" />
<path d="M220.85000000000002,218.9 L220.85000000000002,222.9 L230.25,218.9 L230.25,222.9 Z" stroke="#3a3a3a" stroke-width="0.8" fill="none"/>
<line x1="225.55" y1="217.60" x2="225.55" y2="220.90" stroke="#444" stroke-width="0.8" />
<rect x="236.30" y="90.50" width="6.10" height="8.60" stroke="#555" stroke-width="0.85" fill="none" />
<line x1="241.40" y1="92.40" x2="241.40" y2="97.10" stroke="#333" stroke-width="0.85" />
<line x1="238.30" y1="96.70" x2="241.40" y2="96.70" stroke="#333" stroke-width="0.85" />
<rect x="247.40" y="90.50" width="6.10" height="8.60" stroke="#555" stroke-width="0.85" fill="none" />
<line x1="249.10" y1="92.40" x2="249.10" y2="97.10" stroke="#333" stroke-width="0.85" />
<line x1="249.10" y1="96.70" x2="252.20" y2="96.70" stroke="#333" stroke-width="0.85" />
<circle cx="244.65" cy="109.00" r="5.70" stroke="#808080" stroke-width="1.8" fill="none"/>
<circle cx="244.65" cy="109.00" r="5.70" stroke="#5a5a5a" stroke-width="0.5" fill="none"/>
<circle cx="244.65" cy="109.00" r="2.70" stroke="#444" stroke-width="0.8" fill="none"/>
<line x1="244.65" y1="107.10" x2="244.65" y2="110.90" stroke="#444" stroke-width="0.8" />
<circle cx="244.65" cy="124.00" r="5.70" stroke="#808080" stroke-width="1.8" fill="none"/>
<circle cx="244.65" cy="124.00" r="5.70" stroke="#5a5a5a" stroke-width="0.5" fill="none"/>
<circle cx="244.65" cy="124.00" r="2.70" stroke="#444" stroke-width="0.8" fill="none"/>
<line x1="244.65" y1="122.10" x2="244.65" y2="125.90" stroke="#444" stroke-width="0.8" />
<text transform="translate(236.40 102.82) scale(1 1.2)" font-size="2.58" fill="#444" stroke="#444" stroke-width="0.1" text-anchor="start" font-weight="normal">12</text>
<text transform="translate(249.10 102.82) scale(1 1.2)" font-size="2.58" fill="#444" stroke="#444" stroke-width="0.1" text-anchor="start" font-weight="normal">14</text>
<text transform="translate(236.40 117.42) scale(1 1.2)" font-size="2.58" fill="#444" stroke="#444" stroke-width="0.1" text-anchor="start" font-weight="normal">12</text>
<text transform="translate(249.10 133.62) scale(1 1.2)" font-size="2.58" fill="#444" stroke="#444" stroke-width="0.1" text-anchor="start" font-weight="normal">14</text>
<text transform="translate(244.45 146.49) scale(1 1.2)" font-size="3.25" fill="#444" stroke="#444" stroke-width="0.1" text-anchor="middle" font-weight="normal">FESTO</text>
<text transform="translate(244.45 150.69) scale(1 1.2)" font-size="3.25" fill="#444" stroke="#444" stroke-width="0.1" text-anchor="middle" font-weight="normal">533396</text>
<text transform="translate(244.25 160.28) scale(1 1.15)" font-size="6.00" fill="#2a2a2a" stroke="#2a2a2a" stroke-width="0.08" text-anchor="middle" font-weight="normal">N</text>
<text transform="translate(244.45 169.02) scale(1 1.2)" font-size="3.33" fill="#3a3a3a" stroke="#3a3a3a" stroke-width="0.1" text-anchor="middle" font-weight="normal">RT7.6</text>
<text transform="translate(244.45 174.82) scale(1 1.2)" font-size="3.33" fill="#3a3a3a" stroke="#3a3a3a" stroke-width="0.1" text-anchor="middle" font-weight="normal">RT7.5</text>
<text transform="translate(244.45 186.25) scale(1 1.15)" font-size="3.83" fill="#333" stroke="#333" stroke-width="0.08" text-anchor="middle" font-weight="normal">2x</text>
<text transform="translate(244.45 191.32) scale(1 1.15)" font-size="3.75" fill="#666" stroke="#666" stroke-width="0.08" text-anchor="middle" font-weight="normal">3/2</text>
<rect x="241.25" y="199.60" width="6.00" height="11.80" stroke="#555" stroke-width="0.9" fill="none" />
<line x1="244.25" y1="211.40" x2="244.25" y2="215.60" stroke="#555" stroke-width="0.8" />
<path d="M239.55,218.9 L239.55,222.9 L248.95,218.9 L248.95,222.9 Z" stroke="#3a3a3a" stroke-width="0.8" fill="none"/>
<line x1="244.25" y1="217.60" x2="244.25" y2="220.90" stroke="#444" stroke-width="0.8" />
<rect x="254.80" y="90.50" width="6.10" height="8.60" stroke="#555" stroke-width="0.85" fill="none" />
<line x1="259.90" y1="92.40" x2="259.90" y2="97.10" stroke="#333" stroke-width="0.85" />
<line x1="256.80" y1="96.70" x2="259.90" y2="96.70" stroke="#333" stroke-width="0.85" />
<rect x="265.90" y="90.50" width="6.10" height="8.60" stroke="#555" stroke-width="0.85" fill="none" />
<line x1="267.60" y1="92.40" x2="267.60" y2="97.10" stroke="#333" stroke-width="0.85" />
<line x1="267.60" y1="96.70" x2="270.70" y2="96.70" stroke="#333" stroke-width="0.85" />
<circle cx="263.15" cy="109.00" r="5.70" stroke="#808080" stroke-width="1.8" fill="none"/>
<circle cx="263.15" cy="109.00" r="5.70" stroke="#5a5a5a" stroke-width="0.5" fill="none"/>
<circle cx="263.15" cy="109.00" r="2.70" stroke="#444" stroke-width="0.8" fill="none"/>
<line x1="263.15" y1="107.10" x2="263.15" y2="110.90" stroke="#444" stroke-width="0.8" />
<circle cx="263.15" cy="124.00" r="5.70" stroke="#808080" stroke-width="1.8" fill="none"/>
<circle cx="263.15" cy="124.00" r="5.70" stroke="#5a5a5a" stroke-width="0.5" fill="none"/>
<circle cx="263.15" cy="124.00" r="2.70" stroke="#444" stroke-width="0.8" fill="none"/>
<line x1="263.15" y1="122.10" x2="263.15" y2="125.90" stroke="#444" stroke-width="0.8" />
<text transform="translate(254.90 102.82) scale(1 1.2)" font-size="2.58" fill="#444" stroke="#444" stroke-width="0.1" text-anchor="start" font-weight="normal">12</text>
<text transform="translate(267.60 102.82) scale(1 1.2)" font-size="2.58" fill="#444" stroke="#444" stroke-width="0.1" text-anchor="start" font-weight="normal">14</text>
<text transform="translate(254.90 117.42) scale(1 1.2)" font-size="2.58" fill="#444" stroke="#444" stroke-width="0.1" text-anchor="start" font-weight="normal">12</text>
<text transform="translate(267.60 133.62) scale(1 1.2)" font-size="2.58" fill="#444" stroke="#444" stroke-width="0.1" text-anchor="start" font-weight="normal">14</text>
<text transform="translate(262.95 146.49) scale(1 1.2)" font-size="3.25" fill="#444" stroke="#444" stroke-width="0.1" text-anchor="middle" font-weight="normal">FESTO</text>
<text transform="translate(262.95 150.69) scale(1 1.2)" font-size="3.25" fill="#444" stroke="#444" stroke-width="0.1" text-anchor="middle" font-weight="normal">533396</text>
<text transform="translate(262.75 160.28) scale(1 1.15)" font-size="6.00" fill="#2a2a2a" stroke="#2a2a2a" stroke-width="0.08" text-anchor="middle" font-weight="normal">N</text>
<text transform="translate(262.95 169.02) scale(1 1.2)" font-size="3.33" fill="#3a3a3a" stroke="#3a3a3a" stroke-width="0.1" text-anchor="middle" font-weight="normal">RT7.6</text>
<text transform="translate(262.95 174.82) scale(1 1.2)" font-size="3.33" fill="#3a3a3a" stroke="#3a3a3a" stroke-width="0.1" text-anchor="middle" font-weight="normal">RT7.7</text>
<text transform="translate(262.95 186.25) scale(1 1.15)" font-size="3.83" fill="#333" stroke="#333" stroke-width="0.08" text-anchor="middle" font-weight="normal">2x</text>
<text transform="translate(262.95 191.32) scale(1 1.15)" font-size="3.75" fill="#666" stroke="#666" stroke-width="0.08" text-anchor="middle" font-weight="normal">3/2</text>
<rect x="259.75" y="199.60" width="6.00" height="11.80" stroke="#555" stroke-width="0.9" fill="none" />
<line x1="262.75" y1="211.40" x2="262.75" y2="215.60" stroke="#555" stroke-width="0.8" />
<path d="M258.05,218.9 L258.05,222.9 L267.45,218.9 L267.45,222.9 Z" stroke="#3a3a3a" stroke-width="0.8" fill="none"/>
<line x1="262.75" y1="217.60" x2="262.75" y2="220.90" stroke="#444" stroke-width="0.8" />
<path d="M198.3,90.5 L198.3,189.5 A2.1,2.1 0 0 1 198.3,193.7 L198.3,236" stroke="#444" stroke-width="0.9" fill="none"/>
<circle cx="198.00" cy="196.70" r="2.30" stroke="#3a3a3a" stroke-width="1.0" fill="none"/>
<line x1="195.70" y1="196.70" x2="200.30" y2="196.70" stroke="#333" stroke-width="0.9" />
<line x1="198.00" y1="194.40" x2="198.00" y2="199.00" stroke="#333" stroke-width="0.9" />
<line x1="216.80" y1="90.50" x2="216.80" y2="229.50" stroke="#1a1a1a" stroke-width="1.25" />
<circle cx="218.30" cy="191.70" r="2.10" stroke="#333" stroke-width="1.0" fill="#bdbdbd"/>
<circle cx="216.80" cy="196.80" r="2.30" stroke="#3a3a3a" stroke-width="1.0" fill="none"/>
<line x1="214.50" y1="196.80" x2="219.10" y2="196.80" stroke="#333" stroke-width="0.9" />
<line x1="216.80" y1="194.50" x2="216.80" y2="199.10" stroke="#333" stroke-width="0.9" />
<line x1="235.50" y1="90.50" x2="235.50" y2="229.50" stroke="#1a1a1a" stroke-width="1.25" />
<circle cx="237.00" cy="191.70" r="2.10" stroke="#333" stroke-width="1.0" fill="#bdbdbd"/>
<circle cx="235.50" cy="196.80" r="2.30" stroke="#3a3a3a" stroke-width="1.0" fill="none"/>
<line x1="233.20" y1="196.80" x2="237.80" y2="196.80" stroke="#333" stroke-width="0.9" />
<line x1="235.50" y1="194.50" x2="235.50" y2="199.10" stroke="#333" stroke-width="0.9" />
<line x1="254.00" y1="90.50" x2="254.00" y2="229.50" stroke="#383838" stroke-width="0.9" />
<circle cx="255.50" cy="191.70" r="2.10" stroke="#333" stroke-width="1.0" fill="#bdbdbd"/>
<circle cx="254.00" cy="196.80" r="2.30" stroke="#3a3a3a" stroke-width="1.0" fill="none"/>
<line x1="251.70" y1="196.80" x2="256.30" y2="196.80" stroke="#333" stroke-width="0.9" />
<line x1="254.00" y1="194.50" x2="254.00" y2="199.10" stroke="#333" stroke-width="0.9" />
<text transform="translate(235.60 75.56) scale(1 1.06)" font-size="6.17" fill="#444" stroke="#444" stroke-width="0.08" text-anchor="middle" font-weight="normal">-1578K3</text>
<text transform="translate(235.60 80.45) scale(1 1.15)" font-size="4.08" fill="#555" stroke="#555" stroke-width="0.08" text-anchor="middle" font-weight="normal">1578.1</text>
<path d="M221.88,81.60 L221.88,83.60 L220.58,83.60" stroke="#444" stroke-width="0.55" fill="none"/>
<path d="M219.68,83.60 L220.88,82.80 L220.88,84.40 Z" stroke="#444" stroke-width="0.2" fill="#444"/>
<text transform="translate(222.25 84.39) scale(1 1.15)" font-size="4.45" fill="#555" stroke="#555" stroke-width="0.08" text-anchor="start" font-weight="normal">PNEU/2157.1</text>
<path d="M221.88,85.50 L221.88,87.50 L220.58,87.50" stroke="#444" stroke-width="0.55" fill="none"/>
<path d="M219.68,87.50 L220.88,86.70 L220.88,88.30 Z" stroke="#444" stroke-width="0.2" fill="#444"/>
<text transform="translate(222.25 88.29) scale(1 1.15)" font-size="4.45" fill="#555" stroke="#555" stroke-width="0.08" text-anchor="start" font-weight="normal">PNEU/2158.1</text>
<path d="M272.6,90.5 L272.6,194.4 A2.2,2.2 0 0 0 272.6,198.8 L272.6,234.6" stroke="#444" stroke-width="0.9" fill="none"/>
<circle cx="272.90" cy="191.70" r="2.10" stroke="#333" stroke-width="1.0" fill="#bdbdbd"/>
<circle cx="276.80" cy="94.60" r="3.40" stroke="#777" stroke-width="0.9" fill="none"/>
<line x1="273.40" y1="94.60" x2="280.20" y2="94.60" stroke="#2a2a2a" stroke-width="1.0" />
<line x1="276.80" y1="91.20" x2="276.80" y2="98.00" stroke="#2a2a2a" stroke-width="1.0" />
<circle cx="293.60" cy="94.60" r="3.40" stroke="#777" stroke-width="0.9" fill="none"/>
<line x1="290.20" y1="94.60" x2="297.00" y2="94.60" stroke="#2a2a2a" stroke-width="1.0" />
<line x1="293.60" y1="91.20" x2="293.60" y2="98.00" stroke="#2a2a2a" stroke-width="1.0" />
<circle cx="276.80" cy="161.40" r="3.40" stroke="#777" stroke-width="0.9" fill="none"/>
<line x1="273.40" y1="161.40" x2="280.20" y2="161.40" stroke="#2a2a2a" stroke-width="1.0" />
<line x1="276.80" y1="158.00" x2="276.80" y2="164.80" stroke="#2a2a2a" stroke-width="1.0" />
<circle cx="293.60" cy="161.40" r="3.40" stroke="#777" stroke-width="0.9" fill="none"/>
<line x1="290.20" y1="161.40" x2="297.00" y2="161.40" stroke="#2a2a2a" stroke-width="1.0" />
<line x1="293.60" y1="158.00" x2="293.60" y2="164.80" stroke="#2a2a2a" stroke-width="1.0" />
<circle cx="276.80" cy="216.30" r="3.40" stroke="#777" stroke-width="0.9" fill="none"/>
<line x1="273.40" y1="216.30" x2="280.20" y2="216.30" stroke="#2a2a2a" stroke-width="1.0" />
<line x1="276.80" y1="212.90" x2="276.80" y2="219.70" stroke="#2a2a2a" stroke-width="1.0" />
<circle cx="293.60" cy="216.30" r="3.40" stroke="#777" stroke-width="0.9" fill="none"/>
<line x1="290.20" y1="216.30" x2="297.00" y2="216.30" stroke="#2a2a2a" stroke-width="1.0" />
<line x1="293.60" y1="212.90" x2="293.60" y2="219.70" stroke="#2a2a2a" stroke-width="1.0" />
<path d="M272.6,229.5 L272.6,232.1 L274.8,234.6 L294.8,234.6 L297.0,232.1 L297.0,229.5" stroke="#444" stroke-width="0.9" fill="none"/>
<line x1="274.60" y1="232.10" x2="295.00" y2="232.10" stroke="#777" stroke-width="0.7" />
<text transform="translate(284.80 146.49) scale(1 1.2)" font-size="3.25" fill="#444" stroke="#444" stroke-width="0.1" text-anchor="middle" font-weight="normal">FESTO</text>
<text transform="translate(284.80 150.64) scale(1 1.2)" font-size="3.25" fill="#444" stroke="#444" stroke-width="0.1" text-anchor="middle" font-weight="normal">CPXZAI</text>
<text transform="translate(284.80 154.79) scale(1 1.2)" font-size="3.25" fill="#444" stroke="#444" stroke-width="0.1" text-anchor="middle" font-weight="normal">533399</text>
<text transform="translate(285.30 88.36) scale(1 1.06)" font-size="6.17" fill="#444" stroke="#444" stroke-width="0.08" text-anchor="middle" font-weight="normal">-1578X4</text>
<rect x="297.80" y="90.50" width="6.10" height="8.60" stroke="#555" stroke-width="0.85" fill="none" />
<line x1="300.20" y1="92.40" x2="300.20" y2="97.10" stroke="#333" stroke-width="0.85" />
<line x1="300.20" y1="96.70" x2="303.20" y2="96.70" stroke="#333" stroke-width="0.85" />
<rect x="308.90" y="90.50" width="6.10" height="8.60" stroke="#555" stroke-width="0.85" fill="none" />
<line x1="312.60" y1="92.40" x2="312.60" y2="97.10" stroke="#333" stroke-width="0.85" />
<line x1="309.60" y1="96.70" x2="312.60" y2="96.70" stroke="#333" stroke-width="0.85" />
<rect x="316.30" y="90.50" width="6.10" height="8.60" stroke="#555" stroke-width="0.85" fill="none" />
<line x1="318.70" y1="92.40" x2="318.70" y2="97.10" stroke="#333" stroke-width="0.85" />
<line x1="318.70" y1="96.70" x2="321.70" y2="96.70" stroke="#333" stroke-width="0.85" />
<rect x="327.40" y="90.50" width="6.10" height="8.60" stroke="#555" stroke-width="0.85" fill="none" />
<line x1="331.10" y1="92.40" x2="331.10" y2="97.10" stroke="#333" stroke-width="0.85" />
<line x1="328.10" y1="96.70" x2="331.10" y2="96.70" stroke="#333" stroke-width="0.85" />
<circle cx="306.40" cy="109.00" r="5.70" stroke="#808080" stroke-width="1.8" fill="none"/>
<circle cx="306.40" cy="109.00" r="5.70" stroke="#5a5a5a" stroke-width="0.5" fill="none"/>
<circle cx="306.40" cy="109.00" r="2.70" stroke="#444" stroke-width="0.8" fill="none"/>
<line x1="306.40" y1="107.10" x2="306.40" y2="110.90" stroke="#444" stroke-width="0.8" />
<circle cx="325.00" cy="109.00" r="5.70" stroke="#808080" stroke-width="1.8" fill="none"/>
<circle cx="325.00" cy="109.00" r="5.70" stroke="#5a5a5a" stroke-width="0.5" fill="none"/>
<circle cx="325.00" cy="109.00" r="2.70" stroke="#444" stroke-width="0.8" fill="none"/>
<line x1="325.00" y1="107.10" x2="325.00" y2="110.90" stroke="#444" stroke-width="0.8" />
<line x1="315.40" y1="90.50" x2="315.40" y2="119.80" stroke="#666" stroke-width="0.8" />
<line x1="296.90" y1="119.80" x2="334.10" y2="119.80" stroke="#444" stroke-width="0.9" />
<line x1="296.90" y1="141.60" x2="334.10" y2="141.60" stroke="#444" stroke-width="0.9" />
<text transform="translate(298.30 103.62) scale(1 1.2)" font-size="2.58" fill="#444" stroke="#444" stroke-width="0.1" text-anchor="start" font-weight="normal">12</text>
<text transform="translate(329.10 103.62) scale(1 1.2)" font-size="2.58" fill="#444" stroke="#444" stroke-width="0.1" text-anchor="start" font-weight="normal">14</text>
<circle cx="300.50" cy="129.70" r="1.10" stroke="#222" stroke-width="0.5" fill="#222"/>
<text transform="translate(303.90 140.02) scale(1 1.2)" font-size="2.58" fill="#444" stroke="#444" stroke-width="0.1" text-anchor="start" font-weight="normal">12</text>
<text transform="translate(324.40 140.02) scale(1 1.2)" font-size="2.58" fill="#444" stroke="#444" stroke-width="0.1" text-anchor="start" font-weight="normal">14</text>
<text transform="translate(315.50 146.59) scale(1 1.2)" font-size="3.25" fill="#444" stroke="#444" stroke-width="0.1" text-anchor="middle" font-weight="normal">FESTO</text>
<text transform="translate(315.50 150.69) scale(1 1.2)" font-size="3.25" fill="#444" stroke="#444" stroke-width="0.1" text-anchor="middle" font-weight="normal">566656</text>
<text transform="translate(315.50 160.58) scale(1 1.15)" font-size="6.00" fill="#2a2a2a" stroke="#2a2a2a" stroke-width="0.08" text-anchor="middle" font-weight="normal">KS</text>
<text transform="translate(315.50 169.02) scale(1 1.2)" font-size="3.33" fill="#3a3a3a" stroke="#3a3a3a" stroke-width="0.1" text-anchor="middle" font-weight="normal">RT4.0</text>
<text transform="translate(315.50 174.72) scale(1 1.2)" font-size="3.33" fill="#3a3a3a" stroke="#3a3a3a" stroke-width="0.1" text-anchor="middle" font-weight="normal">RT4.1</text>
<text transform="translate(315.50 185.85) scale(1 1.15)" font-size="3.83" fill="#333" stroke="#333" stroke-width="0.08" text-anchor="middle" font-weight="normal">2x</text>
<text transform="translate(315.50 191.12) scale(1 1.15)" font-size="3.75" fill="#666" stroke="#666" stroke-width="0.08" text-anchor="middle" font-weight="normal">3/2</text>
<rect x="312.20" y="199.60" width="6.00" height="11.80" stroke="#555" stroke-width="0.9" fill="none" />
<line x1="315.20" y1="211.40" x2="315.20" y2="215.60" stroke="#555" stroke-width="0.8" />
<path d="M310.5,218.9 L310.5,222.9 L319.9,218.9 L319.9,222.9 Z" stroke="#3a3a3a" stroke-width="0.8" fill="none"/>
<line x1="315.20" y1="217.60" x2="315.20" y2="220.90" stroke="#444" stroke-width="0.8" />
<rect x="335.20" y="90.50" width="6.10" height="8.60" stroke="#555" stroke-width="0.85" fill="none" />
<line x1="337.60" y1="92.40" x2="337.60" y2="97.10" stroke="#333" stroke-width="0.85" />
<line x1="337.60" y1="96.70" x2="340.60" y2="96.70" stroke="#333" stroke-width="0.85" />
<rect x="346.30" y="90.50" width="6.10" height="8.60" stroke="#555" stroke-width="0.85" fill="none" />
<line x1="350.00" y1="92.40" x2="350.00" y2="97.10" stroke="#333" stroke-width="0.85" />
<line x1="347.00" y1="96.70" x2="350.00" y2="96.70" stroke="#333" stroke-width="0.85" />
<rect x="353.70" y="90.50" width="6.10" height="8.60" stroke="#555" stroke-width="0.85" fill="none" />
<line x1="356.10" y1="92.40" x2="356.10" y2="97.10" stroke="#333" stroke-width="0.85" />
<line x1="356.10" y1="96.70" x2="359.10" y2="96.70" stroke="#333" stroke-width="0.85" />
<rect x="364.80" y="90.50" width="6.10" height="8.60" stroke="#555" stroke-width="0.85" fill="none" />
<line x1="368.50" y1="92.40" x2="368.50" y2="97.10" stroke="#333" stroke-width="0.85" />
<line x1="365.50" y1="96.70" x2="368.50" y2="96.70" stroke="#333" stroke-width="0.85" />
<circle cx="343.80" cy="109.00" r="5.70" stroke="#808080" stroke-width="1.8" fill="none"/>
<circle cx="343.80" cy="109.00" r="5.70" stroke="#5a5a5a" stroke-width="0.5" fill="none"/>
<circle cx="343.80" cy="109.00" r="2.70" stroke="#444" stroke-width="0.8" fill="none"/>
<line x1="343.80" y1="107.10" x2="343.80" y2="110.90" stroke="#444" stroke-width="0.8" />
<circle cx="362.40" cy="109.00" r="5.70" stroke="#808080" stroke-width="1.8" fill="none"/>
<circle cx="362.40" cy="109.00" r="5.70" stroke="#5a5a5a" stroke-width="0.5" fill="none"/>
<circle cx="362.40" cy="109.00" r="2.70" stroke="#444" stroke-width="0.8" fill="none"/>
<line x1="362.40" y1="107.10" x2="362.40" y2="110.90" stroke="#444" stroke-width="0.8" />
<line x1="352.80" y1="90.50" x2="352.80" y2="119.80" stroke="#666" stroke-width="0.8" />
<line x1="334.30" y1="119.80" x2="371.50" y2="119.80" stroke="#444" stroke-width="0.9" />
<line x1="334.30" y1="141.60" x2="371.50" y2="141.60" stroke="#444" stroke-width="0.9" />
<text transform="translate(335.70 103.62) scale(1 1.2)" font-size="2.58" fill="#444" stroke="#444" stroke-width="0.1" text-anchor="start" font-weight="normal">12</text>
<text transform="translate(366.50 103.62) scale(1 1.2)" font-size="2.58" fill="#444" stroke="#444" stroke-width="0.1" text-anchor="start" font-weight="normal">14</text>
<circle cx="337.90" cy="129.70" r="1.10" stroke="#222" stroke-width="0.5" fill="#222"/>
<text transform="translate(341.30 140.02) scale(1 1.2)" font-size="2.58" fill="#444" stroke="#444" stroke-width="0.1" text-anchor="start" font-weight="normal">12</text>
<text transform="translate(361.80 140.02) scale(1 1.2)" font-size="2.58" fill="#444" stroke="#444" stroke-width="0.1" text-anchor="start" font-weight="normal">14</text>
<text transform="translate(352.90 146.59) scale(1 1.2)" font-size="3.25" fill="#444" stroke="#444" stroke-width="0.1" text-anchor="middle" font-weight="normal">FESTO</text>
<text transform="translate(352.90 150.69) scale(1 1.2)" font-size="3.25" fill="#444" stroke="#444" stroke-width="0.1" text-anchor="middle" font-weight="normal">567656</text>
<text transform="translate(352.90 160.58) scale(1 1.15)" font-size="6.00" fill="#2a2a2a" stroke="#2a2a2a" stroke-width="0.08" text-anchor="middle" font-weight="normal">E</text>
<text transform="translate(352.90 169.02) scale(1 1.2)" font-size="3.33" fill="#3a3a3a" stroke="#3a3a3a" stroke-width="0.1" text-anchor="middle" font-weight="normal">RT4.2</text>
<text transform="translate(352.90 174.72) scale(1 1.2)" font-size="3.33" fill="#3a3a3a" stroke="#3a3a3a" stroke-width="0.1" text-anchor="middle" font-weight="normal">RT4.3</text>
<text transform="translate(352.90 186.02) scale(1 1.15)" font-size="3.75" fill="#555" stroke="#555" stroke-width="0.08" text-anchor="middle" font-weight="normal">5/3</text>
<rect x="349.60" y="199.60" width="6.00" height="11.80" stroke="#555" stroke-width="0.9" fill="none" />
<line x1="352.60" y1="211.40" x2="352.60" y2="215.60" stroke="#555" stroke-width="0.8" />
<path d="M347.90000000000003,218.9 L347.90000000000003,222.9 L357.3,218.9 L357.3,222.9 Z" stroke="#3a3a3a" stroke-width="0.8" fill="none"/>
<line x1="352.60" y1="217.60" x2="352.60" y2="220.90" stroke="#444" stroke-width="0.8" />
<rect x="372.30" y="90.50" width="6.10" height="8.60" stroke="#555" stroke-width="0.85" fill="none" />
<line x1="374.70" y1="92.40" x2="374.70" y2="97.10" stroke="#333" stroke-width="0.85" />
<line x1="374.70" y1="96.70" x2="377.70" y2="96.70" stroke="#333" stroke-width="0.85" />
<rect x="383.40" y="90.50" width="6.10" height="8.60" stroke="#555" stroke-width="0.85" fill="none" />
<line x1="387.10" y1="92.40" x2="387.10" y2="97.10" stroke="#333" stroke-width="0.85" />
<line x1="384.10" y1="96.70" x2="387.10" y2="96.70" stroke="#333" stroke-width="0.85" />
<rect x="390.80" y="90.50" width="6.10" height="8.60" stroke="#555" stroke-width="0.85" fill="none" />
<line x1="393.20" y1="92.40" x2="393.20" y2="97.10" stroke="#333" stroke-width="0.85" />
<line x1="393.20" y1="96.70" x2="396.20" y2="96.70" stroke="#333" stroke-width="0.85" />
<rect x="401.90" y="90.50" width="6.10" height="8.60" stroke="#555" stroke-width="0.85" fill="none" />
<line x1="405.60" y1="92.40" x2="405.60" y2="97.10" stroke="#333" stroke-width="0.85" />
<line x1="402.60" y1="96.70" x2="405.60" y2="96.70" stroke="#333" stroke-width="0.85" />
<circle cx="380.90" cy="109.00" r="5.70" stroke="#808080" stroke-width="1.8" fill="none"/>
<circle cx="380.90" cy="109.00" r="5.70" stroke="#5a5a5a" stroke-width="0.5" fill="none"/>
<circle cx="380.90" cy="109.00" r="2.70" stroke="#444" stroke-width="0.8" fill="none"/>
<line x1="380.90" y1="107.10" x2="380.90" y2="110.90" stroke="#444" stroke-width="0.8" />
<circle cx="399.50" cy="109.00" r="5.70" stroke="#808080" stroke-width="1.8" fill="none"/>
<circle cx="399.50" cy="109.00" r="5.70" stroke="#5a5a5a" stroke-width="0.5" fill="none"/>
<circle cx="399.50" cy="109.00" r="2.70" stroke="#444" stroke-width="0.8" fill="none"/>
<line x1="399.50" y1="107.10" x2="399.50" y2="110.90" stroke="#444" stroke-width="0.8" />
<line x1="389.90" y1="90.50" x2="389.90" y2="119.80" stroke="#666" stroke-width="0.8" />
<line x1="371.40" y1="119.80" x2="408.60" y2="119.80" stroke="#444" stroke-width="0.9" />
<line x1="371.40" y1="141.60" x2="408.60" y2="141.60" stroke="#444" stroke-width="0.9" />
<text transform="translate(372.80 103.62) scale(1 1.2)" font-size="2.58" fill="#444" stroke="#444" stroke-width="0.1" text-anchor="start" font-weight="normal">12</text>
<text transform="translate(403.60 103.62) scale(1 1.2)" font-size="2.58" fill="#444" stroke="#444" stroke-width="0.1" text-anchor="start" font-weight="normal">14</text>
<circle cx="375.00" cy="129.70" r="1.10" stroke="#222" stroke-width="0.5" fill="#222"/>
<text transform="translate(378.40 140.02) scale(1 1.2)" font-size="2.58" fill="#444" stroke="#444" stroke-width="0.1" text-anchor="start" font-weight="normal">12</text>
<text transform="translate(398.90 140.02) scale(1 1.2)" font-size="2.58" fill="#444" stroke="#444" stroke-width="0.1" text-anchor="start" font-weight="normal">14</text>
<text transform="translate(390.00 146.59) scale(1 1.2)" font-size="3.25" fill="#444" stroke="#444" stroke-width="0.1" text-anchor="middle" font-weight="normal">FESTO</text>
<text transform="translate(390.00 150.69) scale(1 1.2)" font-size="3.25" fill="#444" stroke="#444" stroke-width="0.1" text-anchor="middle" font-weight="normal">567656</text>
<text transform="translate(390.00 160.58) scale(1 1.15)" font-size="6.00" fill="#2a2a2a" stroke="#2a2a2a" stroke-width="0.08" text-anchor="middle" font-weight="normal">E</text>
<text transform="translate(390.00 169.02) scale(1 1.2)" font-size="3.33" fill="#3a3a3a" stroke="#3a3a3a" stroke-width="0.1" text-anchor="middle" font-weight="normal">RT4.0</text>
<text transform="translate(390.00 174.72) scale(1 1.2)" font-size="3.33" fill="#3a3a3a" stroke="#3a3a3a" stroke-width="0.1" text-anchor="middle" font-weight="normal">RT4.1</text>
<text transform="translate(390.00 186.02) scale(1 1.15)" font-size="3.75" fill="#555" stroke="#555" stroke-width="0.08" text-anchor="middle" font-weight="normal">5/3</text>
<rect x="386.70" y="199.60" width="6.00" height="11.80" stroke="#555" stroke-width="0.9" fill="none" />
<line x1="389.70" y1="211.40" x2="389.70" y2="215.60" stroke="#555" stroke-width="0.8" />
<path d="M385.0,218.9 L385.0,222.9 L394.4,218.9 L394.4,222.9 Z" stroke="#3a3a3a" stroke-width="0.8" fill="none"/>
<line x1="389.70" y1="217.60" x2="389.70" y2="220.90" stroke="#444" stroke-width="0.8" />
<rect x="409.30" y="90.50" width="6.10" height="8.60" stroke="#555" stroke-width="0.85" fill="none" />
<line x1="411.70" y1="92.40" x2="411.70" y2="97.10" stroke="#333" stroke-width="0.85" />
<line x1="411.70" y1="96.70" x2="414.70" y2="96.70" stroke="#333" stroke-width="0.85" />
<rect x="420.40" y="90.50" width="6.10" height="8.60" stroke="#555" stroke-width="0.85" fill="none" />
<line x1="424.10" y1="92.40" x2="424.10" y2="97.10" stroke="#333" stroke-width="0.85" />
<line x1="421.10" y1="96.70" x2="424.10" y2="96.70" stroke="#333" stroke-width="0.85" />
<rect x="427.80" y="90.50" width="6.10" height="8.60" stroke="#555" stroke-width="0.85" fill="none" />
<line x1="430.20" y1="92.40" x2="430.20" y2="97.10" stroke="#333" stroke-width="0.85" />
<line x1="430.20" y1="96.70" x2="433.20" y2="96.70" stroke="#333" stroke-width="0.85" />
<rect x="438.90" y="90.50" width="6.10" height="8.60" stroke="#555" stroke-width="0.85" fill="none" />
<line x1="442.60" y1="92.40" x2="442.60" y2="97.10" stroke="#333" stroke-width="0.85" />
<line x1="439.60" y1="96.70" x2="442.60" y2="96.70" stroke="#333" stroke-width="0.85" />
<text transform="translate(427.00 146.59) scale(1 1.2)" font-size="3.25" fill="#444" stroke="#444" stroke-width="0.1" text-anchor="middle" font-weight="normal">FESTO</text>
<text transform="translate(427.00 150.69) scale(1 1.2)" font-size="3.25" fill="#444" stroke="#444" stroke-width="0.1" text-anchor="middle" font-weight="normal">567656</text>
<text transform="translate(427.00 160.58) scale(1 1.15)" font-size="6.00" fill="#2a2a2a" stroke="#2a2a2a" stroke-width="0.08" text-anchor="middle" font-weight="normal">L</text>
<text transform="translate(427.00 169.02) scale(1 1.2)" font-size="3.33" fill="#3a3a3a" stroke="#3a3a3a" stroke-width="0.1" text-anchor="middle" font-weight="normal">RT4.2</text>
<text transform="translate(427.00 174.72) scale(1 1.2)" font-size="3.33" fill="#3a3a3a" stroke="#3a3a3a" stroke-width="0.1" text-anchor="middle" font-weight="normal">RT4.1</text>
<path d="M297.0,90.5 L297.0,192.2 A3.3,3.3 0 0 0 297.0,198.8 L297.0,234.6" stroke="#444" stroke-width="0.9" fill="none"/>
<circle cx="302.20" cy="196.50" r="3.40" stroke="#777" stroke-width="0.9" fill="none"/>
<line x1="298.80" y1="196.50" x2="305.60" y2="196.50" stroke="#2a2a2a" stroke-width="1.0" />
<line x1="302.20" y1="193.10" x2="302.20" y2="199.90" stroke="#2a2a2a" stroke-width="1.0" />
<line x1="334.30" y1="90.50" x2="334.30" y2="229.50" stroke="#1a1a1a" stroke-width="1.25" />
<circle cx="329.70" cy="191.50" r="3.60" stroke="#777" stroke-width="0.9" fill="none"/>
<line x1="326.10" y1="191.50" x2="333.30" y2="191.50" stroke="#2a2a2a" stroke-width="1.0" />
<line x1="329.70" y1="187.90" x2="329.70" y2="195.10" stroke="#2a2a2a" stroke-width="1.0" />
<circle cx="338.30" cy="196.50" r="3.60" stroke="#777" stroke-width="0.9" fill="none"/>
<line x1="334.70" y1="196.50" x2="341.90" y2="196.50" stroke="#2a2a2a" stroke-width="1.0" />
<line x1="338.30" y1="192.90" x2="338.30" y2="200.10" stroke="#2a2a2a" stroke-width="1.0" />
<path d="M334.3,188.6 A2.6,2.6 0 0 1 334.3,193.6 A3.2,3.2 0 0 0 334.3,200.0" stroke="#333" stroke-width="0.9" fill="none"/>
<line x1="371.40" y1="90.50" x2="371.40" y2="229.50" stroke="#383838" stroke-width="0.9" />
<circle cx="366.80" cy="191.50" r="3.60" stroke="#777" stroke-width="0.9" fill="none"/>
<line x1="363.20" y1="191.50" x2="370.40" y2="191.50" stroke="#2a2a2a" stroke-width="1.0" />
<line x1="366.80" y1="187.90" x2="366.80" y2="195.10" stroke="#2a2a2a" stroke-width="1.0" />
<circle cx="375.40" cy="196.50" r="3.60" stroke="#777" stroke-width="0.9" fill="none"/>
<line x1="371.80" y1="196.50" x2="379.00" y2="196.50" stroke="#2a2a2a" stroke-width="1.0" />
<line x1="375.40" y1="192.90" x2="375.40" y2="200.10" stroke="#2a2a2a" stroke-width="1.0" />
<path d="M371.4,188.6 A2.6,2.6 0 0 1 371.4,193.6 A3.2,3.2 0 0 0 371.4,200.0" stroke="#333" stroke-width="0.9" fill="none"/>
<line x1="408.40" y1="90.50" x2="408.40" y2="229.50" stroke="#383838" stroke-width="0.9" />
<circle cx="403.80" cy="191.50" r="3.60" stroke="#777" stroke-width="0.9" fill="none"/>
<line x1="400.20" y1="191.50" x2="407.40" y2="191.50" stroke="#2a2a2a" stroke-width="1.0" />
<line x1="403.80" y1="187.90" x2="403.80" y2="195.10" stroke="#2a2a2a" stroke-width="1.0" />
<circle cx="412.40" cy="196.50" r="3.60" stroke="#777" stroke-width="0.9" fill="none"/>
<line x1="408.80" y1="196.50" x2="416.00" y2="196.50" stroke="#2a2a2a" stroke-width="1.0" />
<line x1="412.40" y1="192.90" x2="412.40" y2="200.10" stroke="#2a2a2a" stroke-width="1.0" />
<path d="M408.4,188.6 A2.6,2.6 0 0 1 408.4,193.6 A3.2,3.2 0 0 0 408.4,200.0" stroke="#333" stroke-width="0.9" fill="none"/>
<text transform="translate(334.30 79.16) scale(1 1.06)" font-size="6.17" fill="#444" stroke="#444" stroke-width="0.08" text-anchor="middle" font-weight="normal">-1578K5</text>
<text transform="translate(334.30 83.72) scale(1 1.15)" font-size="4.00" fill="#555" stroke="#555" stroke-width="0.08" text-anchor="middle" font-weight="normal">1580.1</text>
<path d="M320.58,85.60 L320.58,87.60 L319.28,87.60" stroke="#444" stroke-width="0.55" fill="none"/>
<path d="M318.38,87.60 L319.58,86.80 L319.58,88.40 Z" stroke="#444" stroke-width="0.2" fill="#444"/>
<text transform="translate(320.95 88.39) scale(1 1.15)" font-size="4.45" fill="#555" stroke="#555" stroke-width="0.08" text-anchor="start" font-weight="normal">PNEU/2158.1</text>
<text transform="translate(408.60 79.16) scale(1 1.06)" font-size="6.17" fill="#444" stroke="#444" stroke-width="0.08" text-anchor="middle" font-weight="normal">-1578K6</text>
<text transform="translate(408.60 83.72) scale(1 1.15)" font-size="4.00" fill="#555" stroke="#555" stroke-width="0.08" text-anchor="middle" font-weight="normal">1581.1</text>
<path d="M394.88,85.60 L394.88,87.60 L393.58,87.60" stroke="#444" stroke-width="0.55" fill="none"/>
<path d="M392.68,87.60 L393.88,86.80 L393.88,88.40 Z" stroke="#444" stroke-width="0.2" fill="#444"/>
<text transform="translate(395.25 88.39) scale(1 1.15)" font-size="4.45" fill="#555" stroke="#555" stroke-width="0.08" text-anchor="start" font-weight="normal">PNEU/2158.5</text>
<path d="M445.5,90.5 L445.5,188.3 A3.2,3.2 0 0 1 445.5,194.70000000000002 A2.2,2.2 0 0 0 445.5,199.10000000000002 L445.5,235.4" stroke="#444" stroke-width="0.9" fill="none"/>
<circle cx="440.90" cy="191.50" r="3.50" stroke="#777" stroke-width="0.9" fill="none"/>
<line x1="437.40" y1="191.50" x2="444.40" y2="191.50" stroke="#2a2a2a" stroke-width="1.0" />
<line x1="440.90" y1="188.00" x2="440.90" y2="195.00" stroke="#2a2a2a" stroke-width="1.0" />
<circle cx="450.30" cy="94.60" r="3.40" stroke="#777" stroke-width="0.9" fill="none"/>
<line x1="446.90" y1="94.60" x2="453.70" y2="94.60" stroke="#2a2a2a" stroke-width="1.0" />
<line x1="450.30" y1="91.20" x2="450.30" y2="98.00" stroke="#2a2a2a" stroke-width="1.0" />
<circle cx="466.20" cy="94.60" r="3.40" stroke="#777" stroke-width="0.9" fill="none"/>
<line x1="462.80" y1="94.60" x2="469.60" y2="94.60" stroke="#2a2a2a" stroke-width="1.0" />
<line x1="466.20" y1="91.20" x2="466.20" y2="98.00" stroke="#2a2a2a" stroke-width="1.0" />
<circle cx="450.30" cy="161.40" r="3.40" stroke="#777" stroke-width="0.9" fill="none"/>
<line x1="446.90" y1="161.40" x2="453.70" y2="161.40" stroke="#2a2a2a" stroke-width="1.0" />
<line x1="450.30" y1="158.00" x2="450.30" y2="164.80" stroke="#2a2a2a" stroke-width="1.0" />
<circle cx="466.20" cy="161.40" r="3.40" stroke="#777" stroke-width="0.9" fill="none"/>
<line x1="462.80" y1="161.40" x2="469.60" y2="161.40" stroke="#2a2a2a" stroke-width="1.0" />
<line x1="466.20" y1="158.00" x2="466.20" y2="164.80" stroke="#2a2a2a" stroke-width="1.0" />
<circle cx="450.30" cy="216.30" r="3.40" stroke="#777" stroke-width="0.9" fill="none"/>
<line x1="446.90" y1="216.30" x2="453.70" y2="216.30" stroke="#2a2a2a" stroke-width="1.0" />
<line x1="450.30" y1="212.90" x2="450.30" y2="219.70" stroke="#2a2a2a" stroke-width="1.0" />
<circle cx="466.20" cy="216.30" r="3.40" stroke="#777" stroke-width="0.9" fill="none"/>
<line x1="462.80" y1="216.30" x2="469.60" y2="216.30" stroke="#2a2a2a" stroke-width="1.0" />
<line x1="466.20" y1="212.90" x2="466.20" y2="219.70" stroke="#2a2a2a" stroke-width="1.0" />
<path d="M445.5,229.5 L445.5,232.9 L447.7,235.4 L468.2,235.4 L470.4,232.9 L470.4,229.5" stroke="#444" stroke-width="0.9" fill="none"/>
<line x1="447.50" y1="232.90" x2="468.40" y2="232.90" stroke="#777" stroke-width="0.7" />
<text transform="translate(457.95 146.49) scale(1 1.2)" font-size="3.25" fill="#444" stroke="#444" stroke-width="0.1" text-anchor="middle" font-weight="normal">FESTO</text>
<text transform="translate(457.95 150.64) scale(1 1.2)" font-size="3.25" fill="#444" stroke="#444" stroke-width="0.1" text-anchor="middle" font-weight="normal">533399</text>
<text transform="translate(457.95 154.79) scale(1 1.2)" font-size="3.25" fill="#444" stroke="#444" stroke-width="0.1" text-anchor="middle" font-weight="normal">533375</text>
<path d="M470.4,90.5 L470.4,189.6 A2.0,2.0 0 0 1 470.4,193.6 A2.6,2.6 0 0 0 470.4,198.79999999999998 L470.4,235.4" stroke="#444" stroke-width="0.9" fill="none"/>
<circle cx="474.80" cy="94.60" r="3.40" stroke="#777" stroke-width="0.9" fill="none"/>
<line x1="471.40" y1="94.60" x2="478.20" y2="94.60" stroke="#2a2a2a" stroke-width="1.0" />
<line x1="474.80" y1="91.20" x2="474.80" y2="98.00" stroke="#2a2a2a" stroke-width="1.0" />
<circle cx="490.90" cy="94.60" r="3.40" stroke="#777" stroke-width="0.9" fill="none"/>
<line x1="487.50" y1="94.60" x2="494.30" y2="94.60" stroke="#2a2a2a" stroke-width="1.0" />
<line x1="490.90" y1="91.20" x2="490.90" y2="98.00" stroke="#2a2a2a" stroke-width="1.0" />
<circle cx="474.80" cy="161.40" r="3.40" stroke="#777" stroke-width="0.9" fill="none"/>
<line x1="471.40" y1="161.40" x2="478.20" y2="161.40" stroke="#2a2a2a" stroke-width="1.0" />
<line x1="474.80" y1="158.00" x2="474.80" y2="164.80" stroke="#2a2a2a" stroke-width="1.0" />
<circle cx="490.90" cy="161.40" r="3.40" stroke="#777" stroke-width="0.9" fill="none"/>
<line x1="487.50" y1="161.40" x2="494.30" y2="161.40" stroke="#2a2a2a" stroke-width="1.0" />
<line x1="490.90" y1="158.00" x2="490.90" y2="164.80" stroke="#2a2a2a" stroke-width="1.0" />
<circle cx="474.80" cy="216.30" r="3.40" stroke="#777" stroke-width="0.9" fill="none"/>
<line x1="471.40" y1="216.30" x2="478.20" y2="216.30" stroke="#2a2a2a" stroke-width="1.0" />
<line x1="474.80" y1="212.90" x2="474.80" y2="219.70" stroke="#2a2a2a" stroke-width="1.0" />
<circle cx="490.90" cy="216.30" r="3.40" stroke="#777" stroke-width="0.9" fill="none"/>
<line x1="487.50" y1="216.30" x2="494.30" y2="216.30" stroke="#2a2a2a" stroke-width="1.0" />
<line x1="490.90" y1="212.90" x2="490.90" y2="219.70" stroke="#2a2a2a" stroke-width="1.0" />
<path d="M470.4,229.5 L470.4,231.1 L472.59999999999997,233.6 L492.7,233.6 L494.9,231.1 L494.9,229.5" stroke="#444" stroke-width="0.9" fill="none"/>
<line x1="472.40" y1="231.10" x2="492.90" y2="231.10" stroke="#777" stroke-width="0.7" />
<text transform="translate(482.65 146.49) scale(1 1.2)" font-size="3.25" fill="#444" stroke="#444" stroke-width="0.1" text-anchor="middle" font-weight="normal">FESTO</text>
<text transform="translate(482.65 150.64) scale(1 1.2)" font-size="3.25" fill="#444" stroke="#444" stroke-width="0.1" text-anchor="middle" font-weight="normal">CPXZA1</text>
<text transform="translate(482.65 154.79) scale(1 1.2)" font-size="3.25" fill="#444" stroke="#444" stroke-width="0.1" text-anchor="middle" font-weight="normal">533399</text>
<text transform="translate(482.80 76.71) scale(1 1.06)" font-size="6.03" fill="#444" stroke="#444" stroke-width="0.08" text-anchor="middle" font-weight="normal">-1578X7.1</text>
<text transform="translate(458.00 83.06) scale(1 1.06)" font-size="6.17" fill="#444" stroke="#444" stroke-width="0.08" text-anchor="middle" font-weight="normal">-1578X7</text>
<path d="M444.28,85.60 L444.28,87.60 L442.98,87.60" stroke="#444" stroke-width="0.55" fill="none"/>
<path d="M442.08,87.60 L443.28,86.80 L443.28,88.40 Z" stroke="#444" stroke-width="0.2" fill="#444"/>
<text transform="translate(444.65 88.39) scale(1 1.15)" font-size="4.45" fill="#555" stroke="#555" stroke-width="0.08" text-anchor="start" font-weight="normal">PNEU/2160.1</text>
<rect x="495.90" y="90.50" width="6.10" height="8.60" stroke="#555" stroke-width="0.85" fill="none" />
<line x1="501.00" y1="92.40" x2="501.00" y2="97.10" stroke="#333" stroke-width="0.85" />
<line x1="497.90" y1="96.70" x2="501.00" y2="96.70" stroke="#333" stroke-width="0.85" />
<rect x="507.00" y="90.50" width="6.10" height="8.60" stroke="#555" stroke-width="0.85" fill="none" />
<line x1="508.70" y1="92.40" x2="508.70" y2="97.10" stroke="#333" stroke-width="0.85" />
<line x1="508.70" y1="96.70" x2="511.80" y2="96.70" stroke="#333" stroke-width="0.85" />
<circle cx="504.25" cy="109.00" r="5.70" stroke="#808080" stroke-width="1.8" fill="none"/>
<circle cx="504.25" cy="109.00" r="5.70" stroke="#5a5a5a" stroke-width="0.5" fill="none"/>
<circle cx="504.25" cy="109.00" r="2.70" stroke="#444" stroke-width="0.8" fill="none"/>
<line x1="504.25" y1="107.10" x2="504.25" y2="110.90" stroke="#444" stroke-width="0.8" />
<circle cx="504.25" cy="124.00" r="5.70" stroke="#808080" stroke-width="1.8" fill="none"/>
<circle cx="504.25" cy="124.00" r="5.70" stroke="#5a5a5a" stroke-width="0.5" fill="none"/>
<circle cx="504.25" cy="124.00" r="2.70" stroke="#444" stroke-width="0.8" fill="none"/>
<line x1="504.25" y1="122.10" x2="504.25" y2="125.90" stroke="#444" stroke-width="0.8" />
<text transform="translate(496.00 102.82) scale(1 1.2)" font-size="2.58" fill="#444" stroke="#444" stroke-width="0.1" text-anchor="start" font-weight="normal">12</text>
<text transform="translate(508.70 102.82) scale(1 1.2)" font-size="2.58" fill="#444" stroke="#444" stroke-width="0.1" text-anchor="start" font-weight="normal">14</text>
<text transform="translate(496.00 117.42) scale(1 1.2)" font-size="2.58" fill="#444" stroke="#444" stroke-width="0.1" text-anchor="start" font-weight="normal">12</text>
<text transform="translate(508.70 133.62) scale(1 1.2)" font-size="2.58" fill="#444" stroke="#444" stroke-width="0.1" text-anchor="start" font-weight="normal">14</text>
<text transform="translate(504.05 146.49) scale(1 1.2)" font-size="3.25" fill="#444" stroke="#444" stroke-width="0.1" text-anchor="middle" font-weight="normal">FESTO</text>
<text transform="translate(504.05 150.69) scale(1 1.2)" font-size="3.25" fill="#444" stroke="#444" stroke-width="0.1" text-anchor="middle" font-weight="normal">533342</text>
<text transform="translate(503.85 160.28) scale(1 1.15)" font-size="6.00" fill="#2a2a2a" stroke="#2a2a2a" stroke-width="0.08" text-anchor="middle" font-weight="normal">E</text>
<text transform="translate(504.05 169.02) scale(1 1.2)" font-size="3.33" fill="#3a3a3a" stroke="#3a3a3a" stroke-width="0.1" text-anchor="middle" font-weight="normal">RdG.0</text>
<text transform="translate(504.05 174.82) scale(1 1.2)" font-size="3.33" fill="#3a3a3a" stroke="#3a3a3a" stroke-width="0.1" text-anchor="middle" font-weight="normal">RdG.1</text>
<text transform="translate(504.05 186.22) scale(1 1.15)" font-size="3.75" fill="#555" stroke="#555" stroke-width="0.08" text-anchor="middle" font-weight="normal">5/3</text>
<rect x="500.85" y="199.60" width="6.00" height="11.80" stroke="#555" stroke-width="0.9" fill="none" />
<line x1="503.85" y1="211.40" x2="503.85" y2="215.60" stroke="#555" stroke-width="0.8" />
<path d="M499.15000000000003,218.9 L499.15000000000003,222.9 L508.55,218.9 L508.55,222.9 Z" stroke="#3a3a3a" stroke-width="0.8" fill="none"/>
<line x1="503.85" y1="217.60" x2="503.85" y2="220.90" stroke="#444" stroke-width="0.8" />
<rect x="514.40" y="90.50" width="6.10" height="8.60" stroke="#555" stroke-width="0.85" fill="none" />
<line x1="519.50" y1="92.40" x2="519.50" y2="97.10" stroke="#333" stroke-width="0.85" />
<line x1="516.40" y1="96.70" x2="519.50" y2="96.70" stroke="#333" stroke-width="0.85" />
<rect x="525.50" y="90.50" width="6.10" height="8.60" stroke="#555" stroke-width="0.85" fill="none" />
<line x1="527.20" y1="92.40" x2="527.20" y2="97.10" stroke="#333" stroke-width="0.85" />
<line x1="527.20" y1="96.70" x2="530.30" y2="96.70" stroke="#333" stroke-width="0.85" />
<circle cx="522.75" cy="109.00" r="5.70" stroke="#808080" stroke-width="1.8" fill="none"/>
<circle cx="522.75" cy="109.00" r="5.70" stroke="#5a5a5a" stroke-width="0.5" fill="none"/>
<circle cx="522.75" cy="109.00" r="2.70" stroke="#444" stroke-width="0.8" fill="none"/>
<line x1="522.75" y1="107.10" x2="522.75" y2="110.90" stroke="#444" stroke-width="0.8" />
<circle cx="522.75" cy="124.00" r="5.70" stroke="#808080" stroke-width="1.8" fill="none"/>
<circle cx="522.75" cy="124.00" r="5.70" stroke="#5a5a5a" stroke-width="0.5" fill="none"/>
<circle cx="522.75" cy="124.00" r="2.70" stroke="#444" stroke-width="0.8" fill="none"/>
<line x1="522.75" y1="122.10" x2="522.75" y2="125.90" stroke="#444" stroke-width="0.8" />
<text transform="translate(514.50 102.82) scale(1 1.2)" font-size="2.58" fill="#444" stroke="#444" stroke-width="0.1" text-anchor="start" font-weight="normal">12</text>
<text transform="translate(527.20 102.82) scale(1 1.2)" font-size="2.58" fill="#444" stroke="#444" stroke-width="0.1" text-anchor="start" font-weight="normal">14</text>
<text transform="translate(514.50 117.42) scale(1 1.2)" font-size="2.58" fill="#444" stroke="#444" stroke-width="0.1" text-anchor="start" font-weight="normal">12</text>
<text transform="translate(527.20 133.62) scale(1 1.2)" font-size="2.58" fill="#444" stroke="#444" stroke-width="0.1" text-anchor="start" font-weight="normal">14</text>
<text transform="translate(522.55 146.49) scale(1 1.2)" font-size="3.25" fill="#444" stroke="#444" stroke-width="0.1" text-anchor="middle" font-weight="normal">FESTO</text>
<text transform="translate(522.55 150.69) scale(1 1.2)" font-size="3.25" fill="#444" stroke="#444" stroke-width="0.1" text-anchor="middle" font-weight="normal">533342</text>
<text transform="translate(522.35 160.28) scale(1 1.15)" font-size="6.00" fill="#2a2a2a" stroke="#2a2a2a" stroke-width="0.08" text-anchor="middle" font-weight="normal">N</text>
<text transform="translate(522.55 169.02) scale(1 1.2)" font-size="3.33" fill="#3a3a3a" stroke="#3a3a3a" stroke-width="0.1" text-anchor="middle" font-weight="normal">RdG.2</text>
<text transform="translate(522.55 174.82) scale(1 1.2)" font-size="3.33" fill="#3a3a3a" stroke="#3a3a3a" stroke-width="0.1" text-anchor="middle" font-weight="normal">RdG.3</text>
<text transform="translate(522.55 186.25) scale(1 1.15)" font-size="3.83" fill="#333" stroke="#333" stroke-width="0.08" text-anchor="middle" font-weight="normal">2x</text>
<text transform="translate(522.55 191.32) scale(1 1.15)" font-size="3.75" fill="#666" stroke="#666" stroke-width="0.08" text-anchor="middle" font-weight="normal">3/2</text>
<rect x="519.35" y="199.60" width="6.00" height="11.80" stroke="#555" stroke-width="0.9" fill="none" />
<line x1="522.35" y1="211.40" x2="522.35" y2="215.60" stroke="#555" stroke-width="0.8" />
<path d="M517.65,218.9 L517.65,222.9 L527.0500000000001,218.9 L527.0500000000001,222.9 Z" stroke="#3a3a3a" stroke-width="0.8" fill="none"/>
<line x1="522.35" y1="217.60" x2="522.35" y2="220.90" stroke="#444" stroke-width="0.8" />
<rect x="533.00" y="90.50" width="6.10" height="8.60" stroke="#555" stroke-width="0.85" fill="none" />
<line x1="538.10" y1="92.40" x2="538.10" y2="97.10" stroke="#333" stroke-width="0.85" />
<line x1="535.00" y1="96.70" x2="538.10" y2="96.70" stroke="#333" stroke-width="0.85" />
<rect x="544.10" y="90.50" width="6.10" height="8.60" stroke="#555" stroke-width="0.85" fill="none" />
<line x1="545.80" y1="92.40" x2="545.80" y2="97.10" stroke="#333" stroke-width="0.85" />
<line x1="545.80" y1="96.70" x2="548.90" y2="96.70" stroke="#333" stroke-width="0.85" />
<circle cx="541.35" cy="109.00" r="5.70" stroke="#808080" stroke-width="1.8" fill="none"/>
<circle cx="541.35" cy="109.00" r="5.70" stroke="#5a5a5a" stroke-width="0.5" fill="none"/>
<circle cx="541.35" cy="109.00" r="2.70" stroke="#444" stroke-width="0.8" fill="none"/>
<line x1="541.35" y1="107.10" x2="541.35" y2="110.90" stroke="#444" stroke-width="0.8" />
<circle cx="541.35" cy="124.00" r="5.70" stroke="#808080" stroke-width="1.8" fill="none"/>
<circle cx="541.35" cy="124.00" r="5.70" stroke="#5a5a5a" stroke-width="0.5" fill="none"/>
<circle cx="541.35" cy="124.00" r="2.70" stroke="#444" stroke-width="0.8" fill="none"/>
<line x1="541.35" y1="122.10" x2="541.35" y2="125.90" stroke="#444" stroke-width="0.8" />
<text transform="translate(533.10 102.82) scale(1 1.2)" font-size="2.58" fill="#444" stroke="#444" stroke-width="0.1" text-anchor="start" font-weight="normal">12</text>
<text transform="translate(545.80 102.82) scale(1 1.2)" font-size="2.58" fill="#444" stroke="#444" stroke-width="0.1" text-anchor="start" font-weight="normal">14</text>
<text transform="translate(533.10 117.42) scale(1 1.2)" font-size="2.58" fill="#444" stroke="#444" stroke-width="0.1" text-anchor="start" font-weight="normal">12</text>
<text transform="translate(545.80 133.62) scale(1 1.2)" font-size="2.58" fill="#444" stroke="#444" stroke-width="0.1" text-anchor="start" font-weight="normal">14</text>
<text transform="translate(541.15 146.49) scale(1 1.2)" font-size="3.25" fill="#444" stroke="#444" stroke-width="0.1" text-anchor="middle" font-weight="normal">FESTO</text>
<text transform="translate(541.15 150.69) scale(1 1.2)" font-size="3.25" fill="#444" stroke="#444" stroke-width="0.1" text-anchor="middle" font-weight="normal">533342</text>
<text transform="translate(540.95 160.28) scale(1 1.15)" font-size="6.00" fill="#2a2a2a" stroke="#2a2a2a" stroke-width="0.08" text-anchor="middle" font-weight="normal">J</text>
<text transform="translate(541.15 169.02) scale(1 1.2)" font-size="3.33" fill="#3a3a3a" stroke="#3a3a3a" stroke-width="0.1" text-anchor="middle" font-weight="normal">RdG.4</text>
<text transform="translate(541.15 174.82) scale(1 1.2)" font-size="3.33" fill="#3a3a3a" stroke="#3a3a3a" stroke-width="0.1" text-anchor="middle" font-weight="normal">RdG.5</text>
<text transform="translate(541.15 186.22) scale(1 1.15)" font-size="3.75" fill="#555" stroke="#555" stroke-width="0.08" text-anchor="middle" font-weight="normal">5/2</text>
<rect x="537.95" y="199.60" width="6.00" height="11.80" stroke="#555" stroke-width="0.9" fill="none" />
<line x1="540.95" y1="211.40" x2="540.95" y2="215.60" stroke="#555" stroke-width="0.8" />
<path d="M536.25,218.9 L536.25,222.9 L545.6500000000001,218.9 L545.6500000000001,222.9 Z" stroke="#3a3a3a" stroke-width="0.8" fill="none"/>
<line x1="540.95" y1="217.60" x2="540.95" y2="220.90" stroke="#444" stroke-width="0.8" />
<rect x="551.50" y="90.50" width="6.10" height="8.60" stroke="#555" stroke-width="0.85" fill="none" />
<line x1="556.60" y1="92.40" x2="556.60" y2="97.10" stroke="#333" stroke-width="0.85" />
<line x1="553.50" y1="96.70" x2="556.60" y2="96.70" stroke="#333" stroke-width="0.85" />
<rect x="562.60" y="90.50" width="6.10" height="8.60" stroke="#555" stroke-width="0.85" fill="none" />
<line x1="564.30" y1="92.40" x2="564.30" y2="97.10" stroke="#333" stroke-width="0.85" />
<line x1="564.30" y1="96.70" x2="567.40" y2="96.70" stroke="#333" stroke-width="0.85" />
<circle cx="559.85" cy="109.00" r="5.70" stroke="#808080" stroke-width="1.8" fill="none"/>
<circle cx="559.85" cy="109.00" r="5.70" stroke="#5a5a5a" stroke-width="0.5" fill="none"/>
<circle cx="559.85" cy="109.00" r="2.70" stroke="#444" stroke-width="0.8" fill="none"/>
<line x1="559.85" y1="107.10" x2="559.85" y2="110.90" stroke="#444" stroke-width="0.8" />
<circle cx="559.85" cy="124.00" r="5.70" stroke="#808080" stroke-width="1.8" fill="none"/>
<circle cx="559.85" cy="124.00" r="5.70" stroke="#5a5a5a" stroke-width="0.5" fill="none"/>
<circle cx="559.85" cy="124.00" r="2.70" stroke="#444" stroke-width="0.8" fill="none"/>
<line x1="559.85" y1="122.10" x2="559.85" y2="125.90" stroke="#444" stroke-width="0.8" />
<text transform="translate(551.60 102.82) scale(1 1.2)" font-size="2.58" fill="#444" stroke="#444" stroke-width="0.1" text-anchor="start" font-weight="normal">12</text>
<text transform="translate(564.30 102.82) scale(1 1.2)" font-size="2.58" fill="#444" stroke="#444" stroke-width="0.1" text-anchor="start" font-weight="normal">14</text>
<text transform="translate(551.60 117.42) scale(1 1.2)" font-size="2.58" fill="#444" stroke="#444" stroke-width="0.1" text-anchor="start" font-weight="normal">12</text>
<text transform="translate(564.30 133.62) scale(1 1.2)" font-size="2.58" fill="#444" stroke="#444" stroke-width="0.1" text-anchor="start" font-weight="normal">14</text>
<text transform="translate(559.65 146.49) scale(1 1.2)" font-size="3.25" fill="#444" stroke="#444" stroke-width="0.1" text-anchor="middle" font-weight="normal">FESTO</text>
<text transform="translate(559.65 150.69) scale(1 1.2)" font-size="3.25" fill="#444" stroke="#444" stroke-width="0.1" text-anchor="middle" font-weight="normal">533342</text>
<text transform="translate(559.45 160.28) scale(1 1.15)" font-size="6.00" fill="#2a2a2a" stroke="#2a2a2a" stroke-width="0.08" text-anchor="middle" font-weight="normal">J</text>
<text transform="translate(559.65 169.02) scale(1 1.2)" font-size="3.33" fill="#3a3a3a" stroke="#3a3a3a" stroke-width="0.1" text-anchor="middle" font-weight="normal">RdG.6</text>
<text transform="translate(559.65 174.82) scale(1 1.2)" font-size="3.33" fill="#3a3a3a" stroke="#3a3a3a" stroke-width="0.1" text-anchor="middle" font-weight="normal">RdG.7</text>
<text transform="translate(559.65 186.22) scale(1 1.15)" font-size="3.75" fill="#555" stroke="#555" stroke-width="0.08" text-anchor="middle" font-weight="normal">5/2</text>
<rect x="556.45" y="199.60" width="6.00" height="11.80" stroke="#555" stroke-width="0.9" fill="none" />
<line x1="559.45" y1="211.40" x2="559.45" y2="215.60" stroke="#555" stroke-width="0.8" />
<path d="M554.75,218.9 L554.75,222.9 L564.1500000000001,218.9 L564.1500000000001,222.9 Z" stroke="#3a3a3a" stroke-width="0.8" fill="none"/>
<line x1="559.45" y1="217.60" x2="559.45" y2="220.90" stroke="#444" stroke-width="0.8" />
<path d="M494.9,90.5 L494.9,189.5 A2.1,2.1 0 0 1 494.9,193.7 L494.9,233.6" stroke="#444" stroke-width="0.9" fill="none"/>
<circle cx="494.60" cy="196.70" r="2.30" stroke="#3a3a3a" stroke-width="1.0" fill="none"/>
<line x1="492.30" y1="196.70" x2="496.90" y2="196.70" stroke="#333" stroke-width="0.9" />
<line x1="494.60" y1="194.40" x2="494.60" y2="199.00" stroke="#333" stroke-width="0.9" />
<line x1="513.60" y1="90.50" x2="513.60" y2="229.50" stroke="#383838" stroke-width="0.9" />
<circle cx="515.10" cy="191.70" r="2.10" stroke="#333" stroke-width="1.0" fill="#bdbdbd"/>
<circle cx="513.60" cy="196.80" r="2.30" stroke="#3a3a3a" stroke-width="1.0" fill="none"/>
<line x1="511.30" y1="196.80" x2="515.90" y2="196.80" stroke="#333" stroke-width="0.9" />
<line x1="513.60" y1="194.50" x2="513.60" y2="199.10" stroke="#333" stroke-width="0.9" />
<line x1="532.20" y1="90.50" x2="532.20" y2="229.50" stroke="#1a1a1a" stroke-width="1.25" />
<circle cx="533.70" cy="191.70" r="2.10" stroke="#333" stroke-width="1.0" fill="#bdbdbd"/>
<circle cx="532.20" cy="196.80" r="2.30" stroke="#3a3a3a" stroke-width="1.0" fill="none"/>
<line x1="529.90" y1="196.80" x2="534.50" y2="196.80" stroke="#333" stroke-width="0.9" />
<line x1="532.20" y1="194.50" x2="532.20" y2="199.10" stroke="#333" stroke-width="0.9" />
<line x1="550.70" y1="90.50" x2="550.70" y2="229.50" stroke="#383838" stroke-width="0.9" />
<circle cx="552.20" cy="191.70" r="2.10" stroke="#333" stroke-width="1.0" fill="#bdbdbd"/>
<circle cx="550.70" cy="196.80" r="2.30" stroke="#3a3a3a" stroke-width="1.0" fill="none"/>
<line x1="548.40" y1="196.80" x2="553.00" y2="196.80" stroke="#333" stroke-width="0.9" />
<line x1="550.70" y1="194.50" x2="550.70" y2="199.10" stroke="#333" stroke-width="0.9" />
<path d="M569.2,90.5 L569.2,194.3 A2.2,2.2 0 0 0 569.2,198.7 L569.2,229.5" stroke="#444" stroke-width="0.9" fill="none"/>
<circle cx="569.50" cy="191.60" r="2.10" stroke="#333" stroke-width="1.0" fill="#bdbdbd"/>
<text transform="translate(531.80 79.26) scale(1 1.06)" font-size="6.17" fill="#444" stroke="#444" stroke-width="0.08" text-anchor="middle" font-weight="normal">-1578K8</text>
<text transform="translate(531.80 83.72) scale(1 1.15)" font-size="4.00" fill="#555" stroke="#555" stroke-width="0.08" text-anchor="middle" font-weight="normal">1582.1</text>
<path d="M518.08,85.60 L518.08,87.60 L516.78,87.60" stroke="#444" stroke-width="0.55" fill="none"/>
<path d="M515.88,87.60 L517.08,86.80 L517.08,88.40 Z" stroke="#444" stroke-width="0.2" fill="#444"/>
<text transform="translate(518.45 88.39) scale(1 1.15)" font-size="4.45" fill="#555" stroke="#555" stroke-width="0.08" text-anchor="start" font-weight="normal">PNEU/2160.1</text>
<line x1="577.30" y1="90.50" x2="577.30" y2="229.50" stroke="#606060" stroke-width="0.85" />
<ellipse cx="586.40" cy="119.20" rx="4.50" ry="3.20" stroke="#555" stroke-width="0.8" fill="none"/>
<circle cx="586.40" cy="134.00" r="3.10" stroke="#555" stroke-width="0.8" fill="none"/>
<line x1="577.30" y1="149.60" x2="592.30" y2="149.60" stroke="#606060" stroke-width="0.85" />
<line x1="577.30" y1="157.10" x2="592.30" y2="157.10" stroke="#606060" stroke-width="0.85" />
<path d="M592.3,196.2 L583.5,196.2 A4.5,4.5 0 0 0 583.5,205.2 L592.3,205.2" stroke="#606060" stroke-width="0.85" fill="none"/>
<circle cx="584.60" cy="200.80" r="3.40" stroke="#777" stroke-width="0.9" fill="none"/>
<line x1="581.20" y1="200.80" x2="588.00" y2="200.80" stroke="#2a2a2a" stroke-width="1.0" />
<line x1="584.60" y1="197.40" x2="584.60" y2="204.20" stroke="#2a2a2a" stroke-width="1.0" />
<ellipse cx="586.80" cy="214.90" rx="4.50" ry="3.40" stroke="#555" stroke-width="0.8" fill="none"/>
<circle cx="586.50" cy="224.90" r="3.20" stroke="#555" stroke-width="0.8" fill="none"/>
<rect x="75.40" y="255.40" width="24.00" height="48.80" stroke="#505050" stroke-width="0.85" fill="none" />
<circle cx="87.40" cy="265.40" r="6.30" stroke="#505050" stroke-width="0.85" fill="none"/>
<circle cx="80.80" cy="278.80" r="3.80" stroke="#505050" stroke-width="0.85" fill="none"/>
<circle cx="87.40" cy="292.00" r="6.30" stroke="#505050" stroke-width="0.85" fill="none"/>
<text transform="translate(102.20 266.92) scale(1 1.15)" font-size="4.53" fill="#606060" stroke="#606060" stroke-width="0.08" text-anchor="start" font-weight="normal">Abluft</text>
<text transform="translate(102.20 281.92) scale(1 1.15)" font-size="4.53" fill="#606060" stroke="#606060" stroke-width="0.08" text-anchor="start" font-weight="normal">Steuerabluft</text>
<text transform="translate(102.20 294.02) scale(1 1.15)" font-size="4.53" fill="#606060" stroke="#606060" stroke-width="0.08" text-anchor="start" font-weight="normal">Zuluft</text>
<rect x="174.40" y="255.40" width="23.80" height="48.80" stroke="#505050" stroke-width="0.85" fill="none" />
<circle cx="186.30" cy="265.40" r="6.30" stroke="#505050" stroke-width="0.85" fill="none"/>
<circle cx="192.50" cy="278.80" r="3.80" stroke="#505050" stroke-width="0.85" fill="none"/>
<circle cx="186.30" cy="292.00" r="6.30" stroke="#505050" stroke-width="0.85" fill="none"/>
<text transform="translate(200.80 266.92) scale(1 1.15)" font-size="4.53" fill="#606060" stroke="#606060" stroke-width="0.08" text-anchor="start" font-weight="normal">Abluft</text>
<text transform="translate(200.80 281.92) scale(1 1.15)" font-size="4.53" fill="#606060" stroke="#606060" stroke-width="0.08" text-anchor="start" font-weight="normal">Steuerabluft</text>
<text transform="translate(200.80 294.02) scale(1 1.15)" font-size="4.53" fill="#606060" stroke="#606060" stroke-width="0.08" text-anchor="start" font-weight="normal">Zuluft</text>
<line x1="275.20" y1="237.50" x2="275.20" y2="284.00" stroke="#2a2a2a" stroke-width="0.8" />
<path d="M273.9,235.0 L276.5,235.0 L276.09999999999997,238.2 L274.3,238.2 Z" stroke="#111" stroke-width="0.5" fill="#111"/>
<path d="M274.2,282.8 L276.2,282.8 L275.2,286.0 Z" stroke="#111" stroke-width="0.4" fill="#111"/>
<line x1="281.50" y1="237.50" x2="281.50" y2="284.00" stroke="#2a2a2a" stroke-width="0.8" />
<path d="M280.2,235.0 L282.8,235.0 L282.4,238.2 L280.6,238.2 Z" stroke="#111" stroke-width="0.5" fill="#111"/>
<path d="M280.5,282.8 L282.5,282.8 L281.5,286.0 Z" stroke="#111" stroke-width="0.4" fill="#111"/>
<line x1="287.80" y1="237.50" x2="287.80" y2="284.00" stroke="#2a2a2a" stroke-width="0.8" />
<path d="M286.5,235.0 L289.1,235.0 L288.7,238.2 L286.90000000000003,238.2 Z" stroke="#111" stroke-width="0.5" fill="#111"/>
<path d="M286.8,282.8 L288.8,282.8 L287.8,286.0 Z" stroke="#111" stroke-width="0.4" fill="#111"/>
<line x1="294.10" y1="237.50" x2="294.10" y2="284.00" stroke="#2a2a2a" stroke-width="0.8" />
<path d="M292.8,235.0 L295.40000000000003,235.0 L295.0,238.2 L293.20000000000005,238.2 Z" stroke="#111" stroke-width="0.5" fill="#111"/>
<path d="M293.1,282.8 L295.1,282.8 L294.1,286.0 Z" stroke="#111" stroke-width="0.4" fill="#111"/>
<text transform="translate(279.80 243.72) scale(1 1.15)" font-size="4.00" fill="#444" stroke="#444" stroke-width="0.1" text-anchor="middle" font-weight="normal">1</text>
<text transform="translate(286.10 243.72) scale(1 1.15)" font-size="4.00" fill="#444" stroke="#444" stroke-width="0.1" text-anchor="middle" font-weight="normal">2</text>
<text transform="translate(292.40 243.72) scale(1 1.15)" font-size="4.00" fill="#444" stroke="#444" stroke-width="0.1" text-anchor="middle" font-weight="normal">3</text>
<text transform="translate(298.70 243.72) scale(1 1.15)" font-size="4.00" fill="#444" stroke="#444" stroke-width="0.1" text-anchor="middle" font-weight="normal">4</text>
<text transform="translate(270.40 253.08) scale(1 1.15)" font-size="4.17" fill="#555" stroke="#555" stroke-width="0.08" text-anchor="end" font-weight="normal">24V DC</text>
<text transform="translate(270.40 258.46) scale(1 1.15)" font-size="4.37" fill="#555" stroke="#555" stroke-width="0.08" text-anchor="end" font-weight="normal">NHxDUI</text>
<text transform="translate(268.90 266.94) scale(1 1.15)" font-size="4.58" fill="#444" stroke="#444" stroke-width="0.08" text-anchor="end" font-weight="normal">-1578X4</text>
<text transform="translate(268.90 272.04) scale(1 1.15)" font-size="4.58" fill="#444" stroke="#444" stroke-width="0.08" text-anchor="end" font-weight="normal">Ölflex-110</text>
<text transform="translate(268.40 276.66) scale(1 1.15)" font-size="4.37" fill="#555" stroke="#555" stroke-width="0.08" text-anchor="end" font-weight="normal">4x1,0mm²</text>
<line x1="269.40" y1="269.40" x2="297.00" y2="269.40" stroke="#333" stroke-width="0.9" />
<text transform="translate(278.60 267.92) scale(1 1.15)" font-size="4.00" fill="#444" stroke="#444" stroke-width="0.1" text-anchor="middle" font-weight="normal">1</text>
<text transform="translate(284.50 267.92) scale(1 1.15)" font-size="4.00" fill="#444" stroke="#444" stroke-width="0.1" text-anchor="middle" font-weight="normal">2</text>
<text transform="translate(290.20 268.11) scale(1 1.15)" font-size="4.50" fill="#555" stroke="#555" stroke-width="0.08" text-anchor="start" font-weight="normal">3,GNYE</text>
<line x1="269.70" y1="280.00" x2="269.70" y2="353.30" stroke="#3a3a3a" stroke-width="0.9" stroke-dasharray="11.7 3 9.6 3 9.6 3 9.6 3 9.6 3 9.6 3"/>
<line x1="301.20" y1="280.00" x2="301.20" y2="353.30" stroke="#3a3a3a" stroke-width="0.9" stroke-dasharray="11.7 3 9.6 3 9.6 3 9.6 3 9.6 3 9.6 3"/>
<line x1="269.70" y1="280.00" x2="274.10" y2="280.00" stroke="#3a3a3a" stroke-width="0.9" />
<line x1="296.60" y1="280.00" x2="301.20" y2="280.00" stroke="#3a3a3a" stroke-width="0.9" />
<line x1="269.70" y1="353.30" x2="275.30" y2="353.30" stroke="#3a3a3a" stroke-width="0.9" />
<line x1="280.30" y1="353.30" x2="287.90" y2="353.30" stroke="#3a3a3a" stroke-width="0.9" />
<line x1="293.30" y1="353.30" x2="301.20" y2="353.30" stroke="#3a3a3a" stroke-width="0.9" />
<text transform="translate(276.80 288.2) rotate(-90)" text-anchor="end" textLength="59.8" lengthAdjust="spacing" font-size="4.8" fill="#666">+CU_SC2.3/1WH.5/ <tspan font-size="5.6" font-weight="bold" fill="#333">RES</tspan></text>
<text transform="translate(283.10 288.2) rotate(-90)" text-anchor="end" textLength="62.6" lengthAdjust="spacing" font-size="4.8" fill="#666">+CU_SC2.3/1WH.5/ <tspan font-size="5.6" font-weight="bold" fill="#333">12L+</tspan></text>
<text transform="translate(289.40 288.2) rotate(-90)" text-anchor="end" textLength="59.8" lengthAdjust="spacing" font-size="4.8" fill="#666">+CU_SC2.3/1WH.5/ <tspan font-size="5.6" font-weight="bold" fill="#333">3L-</tspan></text>
<text transform="translate(295.70 288.2) rotate(-90)" text-anchor="end" textLength="54.6" lengthAdjust="spacing" font-size="4.8" fill="#666">+CU_SC2.3/1WH.5/ <tspan font-size="5.6" font-weight="bold" fill="#333">PE</tspan></text>
<text transform="translate(285.45 361.14) scale(1 1.06)" font-size="6.12" fill="#444" stroke="#444" stroke-width="0.08" text-anchor="middle" font-weight="normal">+CU_SC2.3</text>
<text transform="translate(277.80 366.48) scale(1 1.15)" font-size="4.43" fill="#555" stroke="#555" stroke-width="0.08" text-anchor="start" font-weight="normal">1 = n.c.</text>
<text transform="translate(277.80 372.38) scale(1 1.15)" font-size="4.43" fill="#555" stroke="#555" stroke-width="0.08" text-anchor="start" font-weight="normal">2 = 24V DC Last</text>
<text transform="translate(277.80 378.18) scale(1 1.15)" font-size="4.43" fill="#555" stroke="#555" stroke-width="0.08" text-anchor="start" font-weight="normal">3 = 0V DC</text>
<text transform="translate(277.80 384.08) scale(1 1.15)" font-size="4.43" fill="#555" stroke="#555" stroke-width="0.08" text-anchor="start" font-weight="normal">4 = PE</text>
<line x1="473.30" y1="237.50" x2="473.30" y2="284.00" stroke="#2a2a2a" stroke-width="0.8" />
<path d="M472.0,235.0 L474.6,235.0 L474.2,238.2 L472.40000000000003,238.2 Z" stroke="#111" stroke-width="0.5" fill="#111"/>
<path d="M472.3,282.8 L474.3,282.8 L473.3,286.0 Z" stroke="#111" stroke-width="0.4" fill="#111"/>
<line x1="479.50" y1="237.50" x2="479.50" y2="284.00" stroke="#2a2a2a" stroke-width="0.8" />
<path d="M478.2,235.0 L480.8,235.0 L480.4,238.2 L478.6,238.2 Z" stroke="#111" stroke-width="0.5" fill="#111"/>
<path d="M478.5,282.8 L480.5,282.8 L479.5,286.0 Z" stroke="#111" stroke-width="0.4" fill="#111"/>
<line x1="485.60" y1="237.50" x2="485.60" y2="284.00" stroke="#2a2a2a" stroke-width="0.8" />
<path d="M484.3,235.0 L486.90000000000003,235.0 L486.5,238.2 L484.70000000000005,238.2 Z" stroke="#111" stroke-width="0.5" fill="#111"/>
<path d="M484.6,282.8 L486.6,282.8 L485.6,286.0 Z" stroke="#111" stroke-width="0.4" fill="#111"/>
<line x1="491.80" y1="237.50" x2="491.80" y2="284.00" stroke="#2a2a2a" stroke-width="0.8" />
<path d="M490.5,235.0 L493.1,235.0 L492.7,238.2 L490.90000000000003,238.2 Z" stroke="#111" stroke-width="0.5" fill="#111"/>
<path d="M490.8,282.8 L492.8,282.8 L491.8,286.0 Z" stroke="#111" stroke-width="0.4" fill="#111"/>
<text transform="translate(477.90 243.72) scale(1 1.15)" font-size="4.00" fill="#444" stroke="#444" stroke-width="0.1" text-anchor="middle" font-weight="normal">1</text>
<text transform="translate(484.10 243.72) scale(1 1.15)" font-size="4.00" fill="#444" stroke="#444" stroke-width="0.1" text-anchor="middle" font-weight="normal">2</text>
<text transform="translate(490.20 243.72) scale(1 1.15)" font-size="4.00" fill="#444" stroke="#444" stroke-width="0.1" text-anchor="middle" font-weight="normal">3</text>
<text transform="translate(496.40 243.72) scale(1 1.15)" font-size="4.00" fill="#444" stroke="#444" stroke-width="0.1" text-anchor="middle" font-weight="normal">4</text>
<text transform="translate(467.80 253.08) scale(1 1.15)" font-size="4.17" fill="#555" stroke="#555" stroke-width="0.08" text-anchor="end" font-weight="normal">24V DC</text>
<text transform="translate(467.80 258.46) scale(1 1.15)" font-size="4.37" fill="#555" stroke="#555" stroke-width="0.08" text-anchor="end" font-weight="normal">NHxBNxDUI</text>
<text transform="translate(466.30 266.94) scale(1 1.15)" font-size="4.58" fill="#444" stroke="#444" stroke-width="0.08" text-anchor="end" font-weight="normal">-1578X7.1</text>
<text transform="translate(466.30 272.04) scale(1 1.15)" font-size="4.58" fill="#444" stroke="#444" stroke-width="0.08" text-anchor="end" font-weight="normal">Ölflex-110</text>
<text transform="translate(465.80 276.66) scale(1 1.15)" font-size="4.37" fill="#555" stroke="#555" stroke-width="0.08" text-anchor="end" font-weight="normal">4x1,0mm²</text>
<line x1="465.20" y1="269.40" x2="494.60" y2="269.40" stroke="#333" stroke-width="0.9" />
<text transform="translate(476.60 267.92) scale(1 1.15)" font-size="4.00" fill="#444" stroke="#444" stroke-width="0.1" text-anchor="middle" font-weight="normal">1</text>
<text transform="translate(482.40 267.92) scale(1 1.15)" font-size="4.00" fill="#444" stroke="#444" stroke-width="0.1" text-anchor="middle" font-weight="normal">2</text>
<text transform="translate(487.80 268.11) scale(1 1.15)" font-size="4.50" fill="#555" stroke="#555" stroke-width="0.08" text-anchor="start" font-weight="normal">3,GNYE</text>
<line x1="466.60" y1="280.00" x2="466.60" y2="353.30" stroke="#3a3a3a" stroke-width="0.9" stroke-dasharray="11.7 3 9.6 3 9.6 3 9.6 3 9.6 3 9.6 3"/>
<line x1="498.70" y1="280.00" x2="498.70" y2="353.30" stroke="#3a3a3a" stroke-width="0.9" stroke-dasharray="11.7 3 9.6 3 9.6 3 9.6 3 9.6 3 9.6 3"/>
<line x1="466.60" y1="280.00" x2="471.00" y2="280.00" stroke="#3a3a3a" stroke-width="0.9" />
<line x1="494.10" y1="280.00" x2="498.70" y2="280.00" stroke="#3a3a3a" stroke-width="0.9" />
<line x1="466.60" y1="353.30" x2="472.20" y2="353.30" stroke="#3a3a3a" stroke-width="0.9" />
<line x1="477.20" y1="353.30" x2="484.80" y2="353.30" stroke="#3a3a3a" stroke-width="0.9" />
<line x1="490.20" y1="353.30" x2="498.70" y2="353.30" stroke="#3a3a3a" stroke-width="0.9" />
<text transform="translate(474.90 288.2) rotate(-90)" text-anchor="end" textLength="59.8" lengthAdjust="spacing" font-size="4.8" fill="#666">+CU_SC2.3/1WH.5/ <tspan font-size="5.6" font-weight="bold" fill="#333">RES</tspan></text>
<text transform="translate(481.10 288.2) rotate(-90)" text-anchor="end" textLength="62.6" lengthAdjust="spacing" font-size="4.8" fill="#666">+CU_SC2.3/1WH.5/ <tspan font-size="5.6" font-weight="bold" fill="#333">10L+</tspan></text>
<text transform="translate(487.20 288.2) rotate(-90)" text-anchor="end" textLength="59.8" lengthAdjust="spacing" font-size="4.8" fill="#666">+CU_SC2.3/1WH.5/ <tspan font-size="5.6" font-weight="bold" fill="#333">3L-</tspan></text>
<text transform="translate(493.40 288.2) rotate(-90)" text-anchor="end" textLength="54.6" lengthAdjust="spacing" font-size="4.8" fill="#666">+CU_SC2.3/1WH.5/ <tspan font-size="5.6" font-weight="bold" fill="#333">PE</tspan></text>
<text transform="translate(482.65 361.14) scale(1 1.06)" font-size="6.12" fill="#444" stroke="#444" stroke-width="0.08" text-anchor="middle" font-weight="normal">+CU_SC2.3</text>
<text transform="translate(475.90 366.48) scale(1 1.15)" font-size="4.43" fill="#555" stroke="#555" stroke-width="0.08" text-anchor="start" font-weight="normal">1 = n.c.</text>
<text transform="translate(475.90 372.38) scale(1 1.15)" font-size="4.43" fill="#555" stroke="#555" stroke-width="0.08" text-anchor="start" font-weight="normal">2 = 24V DC Last</text>
<text transform="translate(475.90 378.18) scale(1 1.15)" font-size="4.43" fill="#555" stroke="#555" stroke-width="0.08" text-anchor="start" font-weight="normal">3 = 0V DC</text>
<text transform="translate(475.90 384.08) scale(1 1.15)" font-size="4.43" fill="#555" stroke="#555" stroke-width="0.08" text-anchor="start" font-weight="normal">4 = PE</text>
<text transform="translate(-1.40 385.65) scale(1 1.1)" font-size="5.92" fill="#666" stroke="#666" stroke-width="0.05" text-anchor="start" font-weight="normal">575</text>
<text transform="translate(583.00 385.78) scale(1 1.1)" font-size="6.00" fill="#555" stroke="#555" stroke-width="0.05" text-anchor="start" font-weight="normal">1578</text>
<line x1="0.00" y1="388.50" x2="600.00" y2="388.50" stroke="#111" stroke-width="1.4" />
<line x1="0.00" y1="415.30" x2="600.00" y2="415.30" stroke="#111" stroke-width="1.4" />
<line x1="0.00" y1="395.40" x2="124.40" y2="395.40" stroke="#555" stroke-width="0.85" />
<line x1="0.00" y1="402.00" x2="124.40" y2="402.00" stroke="#777" stroke-width="0.85" />
<line x1="0.00" y1="408.80" x2="124.40" y2="408.80" stroke="#444" stroke-width="0.85" />
<line x1="19.40" y1="388.50" x2="19.40" y2="415.30" stroke="#333" stroke-width="0.9" />
<line x1="46.40" y1="388.50" x2="46.40" y2="415.30" stroke="#333" stroke-width="0.9" />
<line x1="61.80" y1="388.50" x2="61.80" y2="415.30" stroke="#333" stroke-width="0.9" />
<line x1="79.60" y1="388.50" x2="79.60" y2="415.30" stroke="#333" stroke-width="0.9" />
<line x1="124.40" y1="388.50" x2="124.40" y2="415.30" stroke="#2a2a2a" stroke-width="0.9" />
<line x1="124.40" y1="408.80" x2="316.30" y2="408.80" stroke="#444" stroke-width="0.9" />
<line x1="242.40" y1="388.50" x2="242.40" y2="408.80" stroke="#333" stroke-width="0.9" />
<line x1="169.80" y1="408.80" x2="169.80" y2="415.30" stroke="#333" stroke-width="0.9" />
<line x1="316.30" y1="388.50" x2="316.30" y2="415.30" stroke="#333" stroke-width="0.9" />
<line x1="300.00" y1="408.80" x2="316.30" y2="408.80" stroke="#444" stroke-width="0.9" />
<line x1="421.10" y1="388.50" x2="421.10" y2="415.30" stroke="#333" stroke-width="0.9" />
<line x1="421.10" y1="400.40" x2="600.00" y2="400.40" stroke="#333" stroke-width="0.9" />
<line x1="528.40" y1="388.50" x2="528.40" y2="415.30" stroke="#333" stroke-width="0.9" />
<line x1="528.40" y1="394.70" x2="600.00" y2="394.70" stroke="#444" stroke-width="0.9" />
<line x1="570.80" y1="400.50" x2="570.80" y2="415.30" stroke="#333" stroke-width="0.9" />
<line x1="570.80" y1="408.60" x2="600.00" y2="408.60" stroke="#444" stroke-width="0.9" />
<text transform="translate(63.60 393.58) scale(1 1.08)" font-size="4.43" fill="#666" stroke="#666" stroke-width="0.04" text-anchor="start" font-weight="normal">Datum</text>
<text transform="translate(82.60 393.58) scale(1 1.08)" font-size="4.43" fill="#777" stroke="#777" stroke-width="0.04" text-anchor="start" font-weight="normal">30.10.2020</text>
<text transform="translate(63.60 400.18) scale(1 1.08)" font-size="4.43" fill="#666" stroke="#666" stroke-width="0.04" text-anchor="start" font-weight="normal">Bearb.</text>
<text transform="translate(82.60 400.18) scale(1 1.08)" font-size="4.43" fill="#666" stroke="#666" stroke-width="0.04" text-anchor="start" font-weight="normal">DOR</text>
<text transform="translate(63.60 406.78) scale(1 1.08)" font-size="4.43" fill="#666" stroke="#666" stroke-width="0.04" text-anchor="start" font-weight="normal">HI-Nr.</text>
<text transform="translate(63.60 413.58) scale(1 1.08)" font-size="4.43" fill="#666" stroke="#666" stroke-width="0.04" text-anchor="start" font-weight="normal">Norm</text>
<text transform="translate(82.60 413.60) scale(1 1.08)" font-size="4.50" fill="#666" stroke="#666" stroke-width="0.04" text-anchor="start" font-weight="normal">DIN EN 61346</text>
<text transform="translate(-1.80 413.58) scale(1 1.08)" font-size="4.43" fill="#666" stroke="#666" stroke-width="0.04" text-anchor="start" font-weight="normal">derung</text>
<text transform="translate(20.80 413.58) scale(1 1.08)" font-size="4.43" fill="#666" stroke="#666" stroke-width="0.04" text-anchor="start" font-weight="normal">Datum</text>
<text transform="translate(48.30 413.58) scale(1 1.08)" font-size="4.43" fill="#666" stroke="#666" stroke-width="0.04" text-anchor="start" font-weight="normal">Name</text>
<text transform="translate(127.20 396.66) scale(1 1.08)" font-size="6.33" fill="#505050" stroke="#505050" stroke-width="0.04" text-anchor="start" font-weight="normal">Pneumatikverteiler</text>
<text transform="translate(127.20 413.82) scale(1 1.08)" font-size="4.53" fill="#666" stroke="#666" stroke-width="0.04" text-anchor="start" font-weight="normal">Version: 1.0.0</text>
<text transform="translate(175.40 413.82) scale(1 1.08)" font-size="4.53" fill="#666" stroke="#666" stroke-width="0.04" text-anchor="start" font-weight="normal">Kundem Zeichnungsnummer:</text>
<text transform="translate(245.30 397.49) scale(1 1.08)" font-size="6.42" fill="#505050" stroke="#505050" stroke-width="0.04" text-anchor="start" font-weight="normal">MS Steuerungs-</text>
<text transform="translate(245.30 404.87) scale(1 1.08)" font-size="6.37" fill="#505050" stroke="#505050" stroke-width="0.04" text-anchor="start" font-weight="normal">technik GmbH</text>
<text transform="translate(367.80 398.07) scale(1 1.08)" font-size="6.37" fill="#505050" stroke="#505050" stroke-width="0.04" text-anchor="middle" font-weight="normal">Übersicht</text>
<text transform="translate(367.80 405.67) scale(1 1.08)" font-size="6.37" fill="#505050" stroke="#505050" stroke-width="0.04" text-anchor="middle" font-weight="normal">Ventilinsel 1</text>
<text transform="translate(423.60 396.83) scale(1 1.08)" font-size="4.57" fill="#666" stroke="#666" stroke-width="0.04" text-anchor="start" font-weight="normal">Zeichnungsnummer:</text>
<text transform="translate(423.60 410.62) scale(1 1.08)" font-size="4.53" fill="#666" stroke="#666" stroke-width="0.04" text-anchor="start" font-weight="normal">Projektnummer:</text>
<text transform="translate(480.00 397.99) scale(1 1.08)" font-size="6.42" fill="#5a5a5a" stroke="#5a5a5a" stroke-width="0.04" text-anchor="start" font-weight="normal">ABC-1234</text>
<text transform="translate(480.00 411.29) scale(1 1.08)" font-size="6.42" fill="#5a5a5a" stroke="#5a5a5a" stroke-width="0.04" text-anchor="start" font-weight="normal">ABC-5678</text>
<text transform="translate(530.60 393.29) scale(1 1.08)" font-size="4.47" fill="#444" stroke="#444" stroke-width="0.04" text-anchor="start" font-weight="normal">=Anlage</text>
<text transform="translate(530.60 398.98) scale(1 1.08)" font-size="4.43" fill="#444" stroke="#444" stroke-width="0.04" text-anchor="start" font-weight="normal">+VII</text>
<text transform="translate(532.80 406.57) scale(1 1.08)" font-size="4.40" fill="#666" stroke="#666" stroke-width="0.04" text-anchor="start" font-weight="normal">Druckdatum</text>
<text transform="translate(532.80 412.87) scale(1 1.08)" font-size="4.40" fill="#666" stroke="#666" stroke-width="0.04" text-anchor="start" font-weight="normal">30.10.2020</text>
<text transform="translate(572.80 406.33) scale(1 1.08)" font-size="3.17" fill="#444" stroke="#444" stroke-width="0.04" text-anchor="start" font-weight="normal">Bl.</text>
<text transform="translate(585.20 407.00) scale(1 1.08)" font-size="6.17" fill="#444" stroke="#444" stroke-width="0.04" text-anchor="start" font-weight="normal">1578</text>
<text transform="translate(576.60 414.02) scale(1 1.08)" font-size="5.67" fill="#444" stroke="#444" stroke-width="0.04" text-anchor="start" font-weight="normal">1582</text>
<text transform="translate(593.80 413.33) scale(1 1.08)" font-size="3.17" fill="#444" stroke="#444" stroke-width="0.04" text-anchor="start" font-weight="normal">Bl.</text>
</svg>
</body></html>
